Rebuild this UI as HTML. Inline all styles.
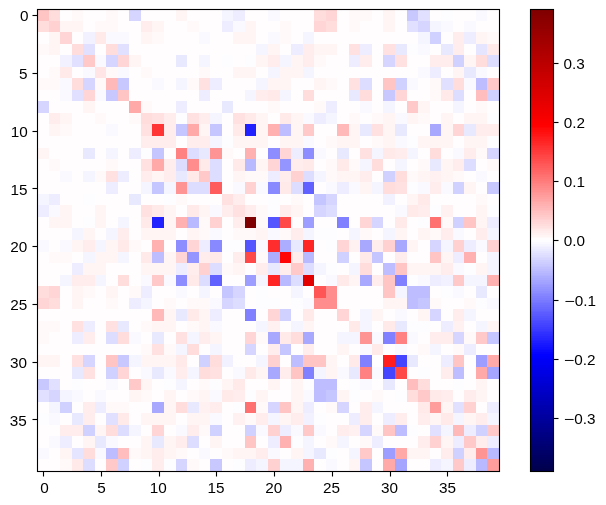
<!DOCTYPE html>
<html><head><meta charset="utf-8"><title>heatmap</title>
<style>html,body{margin:0;padding:0;background:#fff;}body{width:606px;height:505px;overflow:hidden;}svg{display:block;will-change:transform;}text{font-family:"Liberation Sans",sans-serif;font-size:13.85px;letter-spacing:0px;fill:#000;}</style>
</head><body>
<svg width="606" height="505" viewBox="0 0 606 505">
<rect x="0" y="0" width="606" height="505" fill="#ffffff"/>
<g shape-rendering="crispEdges">
<rect x="37.5" y="9.5" width="11.5" height="11.5" fill="#ffc5c5"/>
<rect x="49" y="9.5" width="11" height="11.5" fill="#ffdddd"/>
<rect x="60" y="9.5" width="12" height="11.5" fill="#fffdfd"/>
<rect x="72" y="9.5" width="11" height="11.5" fill="#fff9f9"/>
<rect x="83" y="9.5" width="23" height="11.5" fill="#fffdfd"/>
<rect x="106" y="9.5" width="12" height="11.5" fill="#fff9f9"/>
<rect x="118" y="9.5" width="11" height="11.5" fill="#fffdfd"/>
<rect x="129" y="9.5" width="12" height="11.5" fill="#d5d5ff"/>
<rect x="141" y="9.5" width="35" height="11.5" fill="#fffdfd"/>
<rect x="176" y="9.5" width="11" height="11.5" fill="#fff5f5"/>
<rect x="187" y="9.5" width="35" height="11.5" fill="#fffdfd"/>
<rect x="222" y="9.5" width="11" height="11.5" fill="#f5f5ff"/>
<rect x="233" y="9.5" width="12" height="11.5" fill="#ededff"/>
<rect x="245" y="9.5" width="23" height="11.5" fill="#fffdfd"/>
<rect x="268" y="9.5" width="12" height="11.5" fill="#f9f9ff"/>
<rect x="280" y="9.5" width="34" height="11.5" fill="#fffdfd"/>
<rect x="314" y="9.5" width="12" height="11.5" fill="#ffdddd"/>
<rect x="326" y="9.5" width="11" height="11.5" fill="#ffd5d5"/>
<rect x="337" y="9.5" width="12" height="11.5" fill="#fffdfd"/>
<rect x="349" y="9.5" width="23" height="11.5" fill="#fff9f9"/>
<rect x="372" y="9.5" width="11" height="11.5" fill="#fffdfd"/>
<rect x="383" y="9.5" width="12" height="11.5" fill="#fff5f5"/>
<rect x="395" y="9.5" width="12" height="11.5" fill="#fffdfd"/>
<rect x="407" y="9.5" width="11" height="11.5" fill="#c8c8ff"/>
<rect x="418" y="9.5" width="12" height="11.5" fill="#e1e1ff"/>
<rect x="430" y="9.5" width="11" height="11.5" fill="#fffdfd"/>
<rect x="441" y="9.5" width="12" height="11.5" fill="#fdfdff"/>
<rect x="453" y="9.5" width="23" height="11.5" fill="#fffdfd"/>
<rect x="476" y="9.5" width="11" height="11.5" fill="#f9f9ff"/>
<rect x="487" y="9.5" width="12.5" height="11.5" fill="#fffdfd"/>
<rect x="37.5" y="21" width="11.5" height="11" fill="#ffdddd"/>
<rect x="49" y="21" width="11" height="11" fill="#ffd1d1"/>
<rect x="60" y="21" width="23" height="11" fill="#fff5f5"/>
<rect x="83" y="21" width="12" height="11" fill="#fffdfd"/>
<rect x="95" y="21" width="23" height="11" fill="#fff9f9"/>
<rect x="118" y="21" width="23" height="11" fill="#fffdfd"/>
<rect x="141" y="21" width="11" height="11" fill="#ffeded"/>
<rect x="152" y="21" width="12" height="11" fill="#fff5f5"/>
<rect x="164" y="21" width="23" height="11" fill="#fffdfd"/>
<rect x="187" y="21" width="12" height="11" fill="#fff9f9"/>
<rect x="199" y="21" width="23" height="11" fill="#fffdfd"/>
<rect x="222" y="21" width="11" height="11" fill="#ededff"/>
<rect x="233" y="21" width="12" height="11" fill="#f9f9ff"/>
<rect x="245" y="21" width="11" height="11" fill="#fff5f5"/>
<rect x="256" y="21" width="24" height="11" fill="#fffdfd"/>
<rect x="280" y="21" width="11" height="11" fill="#fff9f9"/>
<rect x="291" y="21" width="23" height="11" fill="#fffdfd"/>
<rect x="314" y="21" width="12" height="11" fill="#ffd5d5"/>
<rect x="326" y="21" width="11" height="11" fill="#ffdddd"/>
<rect x="337" y="21" width="12" height="11" fill="#fffdfd"/>
<rect x="349" y="21" width="11" height="11" fill="#fff9f9"/>
<rect x="360" y="21" width="23" height="11" fill="#fffdfd"/>
<rect x="383" y="21" width="12" height="11" fill="#fff5f5"/>
<rect x="395" y="21" width="12" height="11" fill="#fffdfd"/>
<rect x="407" y="21" width="11" height="11" fill="#e1e1ff"/>
<rect x="418" y="21" width="12" height="11" fill="#d5d5ff"/>
<rect x="430" y="21" width="11" height="11" fill="#f5f5ff"/>
<rect x="441" y="21" width="12" height="11" fill="#f9f9ff"/>
<rect x="453" y="21" width="11" height="11" fill="#fffdfd"/>
<rect x="464" y="21" width="12" height="11" fill="#f9f9ff"/>
<rect x="476" y="21" width="23.5" height="11" fill="#fffdfd"/>
<rect x="37.5" y="32" width="11.5" height="12" fill="#fffdfd"/>
<rect x="49" y="32" width="11" height="12" fill="#fff5f5"/>
<rect x="60" y="32" width="12" height="12" fill="#ffd5d5"/>
<rect x="72" y="32" width="11" height="12" fill="#fffdfd"/>
<rect x="83" y="32" width="12" height="12" fill="#f1f1ff"/>
<rect x="95" y="32" width="11" height="12" fill="#ffe9e9"/>
<rect x="106" y="32" width="23" height="12" fill="#f9f9ff"/>
<rect x="129" y="32" width="12" height="12" fill="#fffdfd"/>
<rect x="141" y="32" width="11" height="12" fill="#fff5f5"/>
<rect x="152" y="32" width="12" height="12" fill="#fff9f9"/>
<rect x="164" y="32" width="35" height="12" fill="#fffdfd"/>
<rect x="199" y="32" width="11" height="12" fill="#f9f9ff"/>
<rect x="210" y="32" width="23" height="12" fill="#fffdfd"/>
<rect x="233" y="32" width="23" height="12" fill="#fff5f5"/>
<rect x="256" y="32" width="12" height="12" fill="#fffdfd"/>
<rect x="268" y="32" width="12" height="12" fill="#f9f9ff"/>
<rect x="280" y="32" width="11" height="12" fill="#fff9f9"/>
<rect x="291" y="32" width="12" height="12" fill="#fffdfd"/>
<rect x="303" y="32" width="11" height="12" fill="#f5f5ff"/>
<rect x="314" y="32" width="104" height="12" fill="#fffdfd"/>
<rect x="418" y="32" width="12" height="12" fill="#f5f5ff"/>
<rect x="430" y="32" width="11" height="12" fill="#d1d1ff"/>
<rect x="441" y="32" width="12" height="12" fill="#fffdfd"/>
<rect x="453" y="32" width="11" height="12" fill="#ffeded"/>
<rect x="464" y="32" width="12" height="12" fill="#ededff"/>
<rect x="476" y="32" width="11" height="12" fill="#fff5f5"/>
<rect x="487" y="32" width="12.5" height="12" fill="#fff9f9"/>
<rect x="37.5" y="44" width="11.5" height="11" fill="#fff9f9"/>
<rect x="49" y="44" width="11" height="11" fill="#fff5f5"/>
<rect x="60" y="44" width="12" height="11" fill="#fffdfd"/>
<rect x="72" y="44" width="11" height="11" fill="#ffdddd"/>
<rect x="83" y="44" width="12" height="11" fill="#e1e1ff"/>
<rect x="95" y="44" width="11" height="11" fill="#fffdfd"/>
<rect x="106" y="44" width="12" height="11" fill="#ffdddd"/>
<rect x="118" y="44" width="11" height="11" fill="#e1e1ff"/>
<rect x="129" y="44" width="127" height="11" fill="#fffdfd"/>
<rect x="256" y="44" width="12" height="11" fill="#f5f5ff"/>
<rect x="268" y="44" width="12" height="11" fill="#fff5f5"/>
<rect x="280" y="44" width="11" height="11" fill="#fffdfd"/>
<rect x="291" y="44" width="12" height="11" fill="#ededff"/>
<rect x="303" y="44" width="11" height="11" fill="#ffeded"/>
<rect x="314" y="44" width="23" height="11" fill="#fff5f5"/>
<rect x="337" y="44" width="12" height="11" fill="#fffdfd"/>
<rect x="349" y="44" width="11" height="11" fill="#ffe1e1"/>
<rect x="360" y="44" width="12" height="11" fill="#ededff"/>
<rect x="372" y="44" width="11" height="11" fill="#fffdfd"/>
<rect x="383" y="44" width="12" height="11" fill="#ffe1e1"/>
<rect x="395" y="44" width="12" height="11" fill="#e8e8ff"/>
<rect x="407" y="44" width="11" height="11" fill="#fdfdff"/>
<rect x="418" y="44" width="12" height="11" fill="#f9f9ff"/>
<rect x="430" y="44" width="11" height="11" fill="#fffdfd"/>
<rect x="441" y="44" width="12" height="11" fill="#e8e8ff"/>
<rect x="453" y="44" width="11" height="11" fill="#ffeded"/>
<rect x="464" y="44" width="12" height="11" fill="#fffdfd"/>
<rect x="476" y="44" width="11" height="11" fill="#e5e5ff"/>
<rect x="487" y="44" width="12.5" height="11" fill="#ffe9e9"/>
<rect x="37.5" y="55" width="22.5" height="12" fill="#fffdfd"/>
<rect x="60" y="55" width="12" height="12" fill="#f1f1ff"/>
<rect x="72" y="55" width="11" height="12" fill="#e1e1ff"/>
<rect x="83" y="55" width="12" height="12" fill="#ffc9c9"/>
<rect x="95" y="55" width="11" height="12" fill="#f9f9ff"/>
<rect x="106" y="55" width="12" height="12" fill="#d5d5ff"/>
<rect x="118" y="55" width="11" height="12" fill="#ffd5d5"/>
<rect x="129" y="55" width="12" height="12" fill="#fff5f5"/>
<rect x="141" y="55" width="35" height="12" fill="#fffdfd"/>
<rect x="176" y="55" width="11" height="12" fill="#e8e8ff"/>
<rect x="187" y="55" width="12" height="12" fill="#fffdfd"/>
<rect x="199" y="55" width="11" height="12" fill="#f5f5ff"/>
<rect x="210" y="55" width="12" height="12" fill="#fffdfd"/>
<rect x="222" y="55" width="11" height="12" fill="#fdfdff"/>
<rect x="233" y="55" width="12" height="12" fill="#fffdfd"/>
<rect x="245" y="55" width="11" height="12" fill="#fdfdff"/>
<rect x="256" y="55" width="12" height="12" fill="#fff5f5"/>
<rect x="268" y="55" width="12" height="12" fill="#ffeded"/>
<rect x="280" y="55" width="11" height="12" fill="#f5f5ff"/>
<rect x="291" y="55" width="12" height="12" fill="#fff5f5"/>
<rect x="303" y="55" width="11" height="12" fill="#ffeded"/>
<rect x="314" y="55" width="12" height="12" fill="#fff9f9"/>
<rect x="326" y="55" width="23" height="12" fill="#fffdfd"/>
<rect x="349" y="55" width="11" height="12" fill="#ededff"/>
<rect x="360" y="55" width="12" height="12" fill="#ffeded"/>
<rect x="372" y="55" width="11" height="12" fill="#fffdfd"/>
<rect x="383" y="55" width="12" height="12" fill="#d5d5ff"/>
<rect x="395" y="55" width="12" height="12" fill="#ffe1e1"/>
<rect x="407" y="55" width="23" height="12" fill="#fffdfd"/>
<rect x="430" y="55" width="23" height="12" fill="#ffeded"/>
<rect x="453" y="55" width="11" height="12" fill="#d1d1ff"/>
<rect x="464" y="55" width="12" height="12" fill="#fff5f5"/>
<rect x="476" y="55" width="11" height="12" fill="#ffdddd"/>
<rect x="487" y="55" width="12.5" height="12" fill="#ddddff"/>
<rect x="37.5" y="67" width="11.5" height="11" fill="#fffdfd"/>
<rect x="49" y="67" width="11" height="11" fill="#fff9f9"/>
<rect x="60" y="67" width="12" height="11" fill="#ffe9e9"/>
<rect x="72" y="67" width="11" height="11" fill="#fffdfd"/>
<rect x="83" y="67" width="12" height="11" fill="#f9f9ff"/>
<rect x="95" y="67" width="11" height="11" fill="#ffe5e5"/>
<rect x="106" y="67" width="12" height="11" fill="#fff9f9"/>
<rect x="118" y="67" width="11" height="11" fill="#f9f9ff"/>
<rect x="129" y="67" width="12" height="11" fill="#fffdfd"/>
<rect x="141" y="67" width="11" height="11" fill="#fff9f9"/>
<rect x="152" y="67" width="47" height="11" fill="#fffdfd"/>
<rect x="199" y="67" width="11" height="11" fill="#fff9f9"/>
<rect x="210" y="67" width="23" height="11" fill="#fffdfd"/>
<rect x="233" y="67" width="23" height="11" fill="#fff5f5"/>
<rect x="256" y="67" width="12" height="11" fill="#fffdfd"/>
<rect x="268" y="67" width="12" height="11" fill="#f5f5ff"/>
<rect x="280" y="67" width="23" height="11" fill="#fff5f5"/>
<rect x="303" y="67" width="11" height="11" fill="#f5f5ff"/>
<rect x="314" y="67" width="104" height="11" fill="#fffdfd"/>
<rect x="418" y="67" width="12" height="11" fill="#f9f9ff"/>
<rect x="430" y="67" width="11" height="11" fill="#ededff"/>
<rect x="441" y="67" width="12" height="11" fill="#fffdfd"/>
<rect x="453" y="67" width="11" height="11" fill="#fff5f5"/>
<rect x="464" y="67" width="12" height="11" fill="#e8e8ff"/>
<rect x="476" y="67" width="11" height="11" fill="#f9f9ff"/>
<rect x="487" y="67" width="12.5" height="11" fill="#fffdfd"/>
<rect x="37.5" y="78" width="22.5" height="12" fill="#fff9f9"/>
<rect x="60" y="78" width="12" height="12" fill="#f9f9ff"/>
<rect x="72" y="78" width="11" height="12" fill="#ffdddd"/>
<rect x="83" y="78" width="12" height="12" fill="#d5d5ff"/>
<rect x="95" y="78" width="11" height="12" fill="#fff9f9"/>
<rect x="106" y="78" width="12" height="12" fill="#ffb9b9"/>
<rect x="118" y="78" width="11" height="12" fill="#c8c8ff"/>
<rect x="129" y="78" width="23" height="12" fill="#fffdfd"/>
<rect x="152" y="78" width="12" height="12" fill="#f9f9ff"/>
<rect x="164" y="78" width="12" height="12" fill="#fffdfd"/>
<rect x="176" y="78" width="11" height="12" fill="#f5f5ff"/>
<rect x="187" y="78" width="12" height="12" fill="#fff9f9"/>
<rect x="199" y="78" width="11" height="12" fill="#ffe1e1"/>
<rect x="210" y="78" width="12" height="12" fill="#ededff"/>
<rect x="222" y="78" width="34" height="12" fill="#fffdfd"/>
<rect x="256" y="78" width="12" height="12" fill="#f5f5ff"/>
<rect x="268" y="78" width="23" height="12" fill="#fff5f5"/>
<rect x="291" y="78" width="23" height="12" fill="#fffdfd"/>
<rect x="314" y="78" width="12" height="12" fill="#fff5f5"/>
<rect x="326" y="78" width="11" height="12" fill="#fff9f9"/>
<rect x="337" y="78" width="12" height="12" fill="#fffdfd"/>
<rect x="349" y="78" width="11" height="12" fill="#ffe1e1"/>
<rect x="360" y="78" width="12" height="12" fill="#ddddff"/>
<rect x="372" y="78" width="11" height="12" fill="#fffdfd"/>
<rect x="383" y="78" width="12" height="12" fill="#ffc5c5"/>
<rect x="395" y="78" width="12" height="12" fill="#d1d1ff"/>
<rect x="407" y="78" width="11" height="12" fill="#f9f9ff"/>
<rect x="418" y="78" width="12" height="12" fill="#fffdfd"/>
<rect x="430" y="78" width="11" height="12" fill="#fff9f9"/>
<rect x="441" y="78" width="12" height="12" fill="#e1e1ff"/>
<rect x="453" y="78" width="11" height="12" fill="#ffdddd"/>
<rect x="464" y="78" width="12" height="12" fill="#f9f9ff"/>
<rect x="476" y="78" width="11" height="12" fill="#bdbdff"/>
<rect x="487" y="78" width="12.5" height="12" fill="#ffc9c9"/>
<rect x="37.5" y="90" width="22.5" height="11" fill="#fffdfd"/>
<rect x="60" y="90" width="12" height="11" fill="#f9f9ff"/>
<rect x="72" y="90" width="11" height="11" fill="#e1e1ff"/>
<rect x="83" y="90" width="12" height="11" fill="#ffd5d5"/>
<rect x="95" y="90" width="11" height="11" fill="#f9f9ff"/>
<rect x="106" y="90" width="12" height="11" fill="#c8c8ff"/>
<rect x="118" y="90" width="11" height="11" fill="#ffc5c5"/>
<rect x="129" y="90" width="70" height="11" fill="#fffdfd"/>
<rect x="199" y="90" width="11" height="11" fill="#ededff"/>
<rect x="210" y="90" width="35" height="11" fill="#fffdfd"/>
<rect x="245" y="90" width="11" height="11" fill="#f5f5ff"/>
<rect x="256" y="90" width="12" height="11" fill="#ffeded"/>
<rect x="268" y="90" width="12" height="11" fill="#ffe9e9"/>
<rect x="280" y="90" width="11" height="11" fill="#f5f5ff"/>
<rect x="291" y="90" width="12" height="11" fill="#fffdfd"/>
<rect x="303" y="90" width="11" height="11" fill="#ffdddd"/>
<rect x="314" y="90" width="35" height="11" fill="#fffdfd"/>
<rect x="349" y="90" width="11" height="11" fill="#e8e8ff"/>
<rect x="360" y="90" width="12" height="11" fill="#ffdddd"/>
<rect x="372" y="90" width="11" height="11" fill="#fffdfd"/>
<rect x="383" y="90" width="12" height="11" fill="#c8c8ff"/>
<rect x="395" y="90" width="12" height="11" fill="#ffd5d5"/>
<rect x="407" y="90" width="23" height="11" fill="#fffdfd"/>
<rect x="430" y="90" width="11" height="11" fill="#fff9f9"/>
<rect x="441" y="90" width="12" height="11" fill="#ffe9e9"/>
<rect x="453" y="90" width="11" height="11" fill="#ddddff"/>
<rect x="464" y="90" width="12" height="11" fill="#fffdfd"/>
<rect x="476" y="90" width="11" height="11" fill="#ffbdbd"/>
<rect x="487" y="90" width="12.5" height="11" fill="#d1d1ff"/>
<rect x="37.5" y="101" width="11.5" height="12" fill="#d5d5ff"/>
<rect x="49" y="101" width="34" height="12" fill="#fffdfd"/>
<rect x="83" y="101" width="12" height="12" fill="#fff5f5"/>
<rect x="95" y="101" width="34" height="12" fill="#fffdfd"/>
<rect x="129" y="101" width="12" height="12" fill="#ffa9a9"/>
<rect x="141" y="101" width="11" height="12" fill="#fff9f9"/>
<rect x="152" y="101" width="24" height="12" fill="#fffdfd"/>
<rect x="176" y="101" width="11" height="12" fill="#ededff"/>
<rect x="187" y="101" width="35" height="12" fill="#fffdfd"/>
<rect x="222" y="101" width="11" height="12" fill="#e8e8ff"/>
<rect x="233" y="101" width="35" height="12" fill="#fffdfd"/>
<rect x="268" y="101" width="12" height="12" fill="#fff9f9"/>
<rect x="280" y="101" width="34" height="12" fill="#fffdfd"/>
<rect x="314" y="101" width="12" height="12" fill="#fff9f9"/>
<rect x="326" y="101" width="11" height="12" fill="#ededff"/>
<rect x="337" y="101" width="23" height="12" fill="#fffdfd"/>
<rect x="360" y="101" width="12" height="12" fill="#f9f9ff"/>
<rect x="372" y="101" width="11" height="12" fill="#fffdfd"/>
<rect x="383" y="101" width="12" height="12" fill="#f5f5ff"/>
<rect x="395" y="101" width="12" height="12" fill="#fffdfd"/>
<rect x="407" y="101" width="11" height="12" fill="#ffc9c9"/>
<rect x="418" y="101" width="12" height="12" fill="#fff5f5"/>
<rect x="430" y="101" width="23" height="12" fill="#fffdfd"/>
<rect x="453" y="101" width="11" height="12" fill="#f5f5ff"/>
<rect x="464" y="101" width="12" height="12" fill="#fffdfd"/>
<rect x="476" y="101" width="11" height="12" fill="#fff9f9"/>
<rect x="487" y="101" width="12.5" height="12" fill="#fffdfd"/>
<rect x="37.5" y="113" width="11.5" height="11" fill="#fffdfd"/>
<rect x="49" y="113" width="11" height="11" fill="#ffeded"/>
<rect x="60" y="113" width="12" height="11" fill="#fff5f5"/>
<rect x="72" y="113" width="23" height="11" fill="#fffdfd"/>
<rect x="95" y="113" width="11" height="11" fill="#fff9f9"/>
<rect x="106" y="113" width="23" height="11" fill="#fffdfd"/>
<rect x="129" y="113" width="12" height="11" fill="#fff9f9"/>
<rect x="141" y="113" width="11" height="11" fill="#ffdddd"/>
<rect x="152" y="113" width="12" height="11" fill="#ffe1e1"/>
<rect x="164" y="113" width="12" height="11" fill="#ffeded"/>
<rect x="176" y="113" width="11" height="11" fill="#fdfdff"/>
<rect x="187" y="113" width="12" height="11" fill="#ffe1e1"/>
<rect x="199" y="113" width="11" height="11" fill="#ffeded"/>
<rect x="210" y="113" width="12" height="11" fill="#f5f5ff"/>
<rect x="222" y="113" width="11" height="11" fill="#fffdfd"/>
<rect x="233" y="113" width="12" height="11" fill="#ffe1e1"/>
<rect x="245" y="113" width="11" height="11" fill="#ffe9e9"/>
<rect x="256" y="113" width="12" height="11" fill="#fff5f5"/>
<rect x="268" y="113" width="12" height="11" fill="#fffdfd"/>
<rect x="280" y="113" width="11" height="11" fill="#ffe9e9"/>
<rect x="291" y="113" width="12" height="11" fill="#fff5f5"/>
<rect x="303" y="113" width="11" height="11" fill="#f9f9ff"/>
<rect x="314" y="113" width="12" height="11" fill="#ededff"/>
<rect x="326" y="113" width="11" height="11" fill="#f5f5ff"/>
<rect x="337" y="113" width="12" height="11" fill="#fffdfd"/>
<rect x="349" y="113" width="11" height="11" fill="#fff9f9"/>
<rect x="360" y="113" width="12" height="11" fill="#fffdfd"/>
<rect x="372" y="113" width="11" height="11" fill="#fff9f9"/>
<rect x="383" y="113" width="12" height="11" fill="#fff5f5"/>
<rect x="395" y="113" width="12" height="11" fill="#f9f9ff"/>
<rect x="407" y="113" width="11" height="11" fill="#fff5f5"/>
<rect x="418" y="113" width="12" height="11" fill="#fff9f9"/>
<rect x="430" y="113" width="11" height="11" fill="#fffdfd"/>
<rect x="441" y="113" width="12" height="11" fill="#fff5f5"/>
<rect x="453" y="113" width="11" height="11" fill="#fffdfd"/>
<rect x="464" y="113" width="23" height="11" fill="#fff5f5"/>
<rect x="487" y="113" width="12.5" height="11" fill="#fdfdff"/>
<rect x="37.5" y="124" width="11.5" height="12" fill="#fffdfd"/>
<rect x="49" y="124" width="11" height="12" fill="#fff5f5"/>
<rect x="60" y="124" width="12" height="12" fill="#fff9f9"/>
<rect x="72" y="124" width="34" height="12" fill="#fffdfd"/>
<rect x="106" y="124" width="12" height="12" fill="#f9f9ff"/>
<rect x="118" y="124" width="23" height="12" fill="#fffdfd"/>
<rect x="141" y="124" width="11" height="12" fill="#ffe1e1"/>
<rect x="152" y="124" width="12" height="12" fill="#ff3535"/>
<rect x="164" y="124" width="12" height="12" fill="#ffeded"/>
<rect x="176" y="124" width="11" height="12" fill="#c5c5ff"/>
<rect x="187" y="124" width="12" height="12" fill="#ffa9a9"/>
<rect x="199" y="124" width="11" height="12" fill="#fff5f5"/>
<rect x="210" y="124" width="12" height="12" fill="#c5c5ff"/>
<rect x="222" y="124" width="11" height="12" fill="#fffdfd"/>
<rect x="233" y="124" width="12" height="12" fill="#ffe9e9"/>
<rect x="245" y="124" width="11" height="12" fill="#2121ff"/>
<rect x="256" y="124" width="12" height="12" fill="#fff5f5"/>
<rect x="268" y="124" width="12" height="12" fill="#ffb1b1"/>
<rect x="280" y="124" width="11" height="12" fill="#bdbdff"/>
<rect x="291" y="124" width="12" height="12" fill="#fff5f5"/>
<rect x="303" y="124" width="11" height="12" fill="#ffc9c9"/>
<rect x="314" y="124" width="23" height="12" fill="#fffdfd"/>
<rect x="337" y="124" width="12" height="12" fill="#ffb9b9"/>
<rect x="349" y="124" width="11" height="12" fill="#fff5f5"/>
<rect x="360" y="124" width="12" height="12" fill="#e8e8ff"/>
<rect x="372" y="124" width="11" height="12" fill="#ffe1e1"/>
<rect x="383" y="124" width="12" height="12" fill="#fff5f5"/>
<rect x="395" y="124" width="12" height="12" fill="#e8e8ff"/>
<rect x="407" y="124" width="23" height="12" fill="#fffdfd"/>
<rect x="430" y="124" width="11" height="12" fill="#a8a8ff"/>
<rect x="441" y="124" width="12" height="12" fill="#fff5f5"/>
<rect x="453" y="124" width="11" height="12" fill="#ffd5d5"/>
<rect x="464" y="124" width="12" height="12" fill="#e8e8ff"/>
<rect x="476" y="124" width="23.5" height="12" fill="#ffeded"/>
<rect x="37.5" y="136" width="103.5" height="12" fill="#fffdfd"/>
<rect x="141" y="136" width="35" height="12" fill="#ffeded"/>
<rect x="176" y="136" width="11" height="12" fill="#fffdfd"/>
<rect x="187" y="136" width="23" height="12" fill="#ffeded"/>
<rect x="210" y="136" width="12" height="12" fill="#f5f5ff"/>
<rect x="222" y="136" width="11" height="12" fill="#fdfdff"/>
<rect x="233" y="136" width="35" height="12" fill="#fff5f5"/>
<rect x="268" y="136" width="12" height="12" fill="#fffdfd"/>
<rect x="280" y="136" width="23" height="12" fill="#fff5f5"/>
<rect x="303" y="136" width="11" height="12" fill="#f9f9ff"/>
<rect x="314" y="136" width="12" height="12" fill="#fffdfd"/>
<rect x="326" y="136" width="11" height="12" fill="#fff9f9"/>
<rect x="337" y="136" width="23" height="12" fill="#fff5f5"/>
<rect x="360" y="136" width="12" height="12" fill="#fffdfd"/>
<rect x="372" y="136" width="11" height="12" fill="#fff9f9"/>
<rect x="383" y="136" width="12" height="12" fill="#fff5f5"/>
<rect x="395" y="136" width="12" height="12" fill="#f9f9ff"/>
<rect x="407" y="136" width="11" height="12" fill="#fdfdff"/>
<rect x="418" y="136" width="35" height="12" fill="#fff5f5"/>
<rect x="453" y="136" width="11" height="12" fill="#fffdfd"/>
<rect x="464" y="136" width="23" height="12" fill="#fff5f5"/>
<rect x="487" y="136" width="12.5" height="12" fill="#fdfdff"/>
<rect x="37.5" y="148" width="11.5" height="11" fill="#fff5f5"/>
<rect x="49" y="148" width="34" height="11" fill="#fffdfd"/>
<rect x="83" y="148" width="12" height="11" fill="#e8e8ff"/>
<rect x="95" y="148" width="11" height="11" fill="#fffdfd"/>
<rect x="106" y="148" width="12" height="11" fill="#f5f5ff"/>
<rect x="118" y="148" width="11" height="11" fill="#fffdfd"/>
<rect x="129" y="148" width="12" height="11" fill="#ededff"/>
<rect x="141" y="148" width="11" height="11" fill="#fdfdff"/>
<rect x="152" y="148" width="12" height="11" fill="#c5c5ff"/>
<rect x="164" y="148" width="12" height="11" fill="#fffdfd"/>
<rect x="176" y="148" width="11" height="11" fill="#ff8181"/>
<rect x="187" y="148" width="12" height="11" fill="#ddddff"/>
<rect x="199" y="148" width="11" height="11" fill="#e8e8ff"/>
<rect x="210" y="148" width="12" height="11" fill="#ff9494"/>
<rect x="222" y="148" width="11" height="11" fill="#fff9f9"/>
<rect x="233" y="148" width="12" height="11" fill="#fffdfd"/>
<rect x="245" y="148" width="11" height="11" fill="#ffb1b1"/>
<rect x="256" y="148" width="12" height="11" fill="#fffdfd"/>
<rect x="268" y="148" width="12" height="11" fill="#8d8dff"/>
<rect x="280" y="148" width="11" height="11" fill="#ffd5d5"/>
<rect x="291" y="148" width="12" height="11" fill="#ededff"/>
<rect x="303" y="148" width="11" height="11" fill="#8d8dff"/>
<rect x="314" y="148" width="12" height="11" fill="#f9f9ff"/>
<rect x="326" y="148" width="11" height="11" fill="#fffdfd"/>
<rect x="337" y="148" width="12" height="11" fill="#e8e8ff"/>
<rect x="349" y="148" width="11" height="11" fill="#fffdfd"/>
<rect x="360" y="148" width="12" height="11" fill="#ffe1e1"/>
<rect x="372" y="148" width="11" height="11" fill="#f5f5ff"/>
<rect x="383" y="148" width="12" height="11" fill="#ffe9e9"/>
<rect x="395" y="148" width="12" height="11" fill="#ffeded"/>
<rect x="407" y="148" width="11" height="11" fill="#f5f5ff"/>
<rect x="418" y="148" width="12" height="11" fill="#fffdfd"/>
<rect x="430" y="148" width="11" height="11" fill="#ffdddd"/>
<rect x="441" y="148" width="12" height="11" fill="#fffdfd"/>
<rect x="453" y="148" width="11" height="11" fill="#f9f9ff"/>
<rect x="464" y="148" width="12" height="11" fill="#ffeded"/>
<rect x="476" y="148" width="11" height="11" fill="#fff9f9"/>
<rect x="487" y="148" width="12.5" height="11" fill="#d5d5ff"/>
<rect x="37.5" y="159" width="11.5" height="12" fill="#fffdfd"/>
<rect x="49" y="159" width="11" height="12" fill="#fff9f9"/>
<rect x="60" y="159" width="46" height="12" fill="#fffdfd"/>
<rect x="106" y="159" width="12" height="12" fill="#fff9f9"/>
<rect x="118" y="159" width="23" height="12" fill="#fffdfd"/>
<rect x="141" y="159" width="11" height="12" fill="#ffe1e1"/>
<rect x="152" y="159" width="12" height="12" fill="#ffa9a9"/>
<rect x="164" y="159" width="12" height="12" fill="#ffeded"/>
<rect x="176" y="159" width="11" height="12" fill="#ddddff"/>
<rect x="187" y="159" width="12" height="12" fill="#ff8d8d"/>
<rect x="199" y="159" width="11" height="12" fill="#ffe9e9"/>
<rect x="210" y="159" width="12" height="12" fill="#ddddff"/>
<rect x="222" y="159" width="11" height="12" fill="#fffdfd"/>
<rect x="233" y="159" width="12" height="12" fill="#ffe9e9"/>
<rect x="245" y="159" width="11" height="12" fill="#b9b9ff"/>
<rect x="256" y="159" width="12" height="12" fill="#fff5f5"/>
<rect x="268" y="159" width="12" height="12" fill="#ffd5d5"/>
<rect x="280" y="159" width="11" height="12" fill="#9595ff"/>
<rect x="291" y="159" width="12" height="12" fill="#ffeded"/>
<rect x="303" y="159" width="11" height="12" fill="#ffe9e9"/>
<rect x="314" y="159" width="12" height="12" fill="#fffdfd"/>
<rect x="326" y="159" width="11" height="12" fill="#fff9f9"/>
<rect x="337" y="159" width="12" height="12" fill="#ffe9e9"/>
<rect x="349" y="159" width="11" height="12" fill="#fff9f9"/>
<rect x="360" y="159" width="12" height="12" fill="#f5f5ff"/>
<rect x="372" y="159" width="11" height="12" fill="#ffdddd"/>
<rect x="383" y="159" width="12" height="12" fill="#fffdfd"/>
<rect x="395" y="159" width="12" height="12" fill="#f5f5ff"/>
<rect x="407" y="159" width="11" height="12" fill="#fffdfd"/>
<rect x="418" y="159" width="12" height="12" fill="#fff9f9"/>
<rect x="430" y="159" width="11" height="12" fill="#e8e8ff"/>
<rect x="441" y="159" width="12" height="12" fill="#fff5f5"/>
<rect x="453" y="159" width="11" height="12" fill="#ffeded"/>
<rect x="464" y="159" width="12" height="12" fill="#ddddff"/>
<rect x="476" y="159" width="11" height="12" fill="#fffdfd"/>
<rect x="487" y="159" width="12.5" height="12" fill="#fff9f9"/>
<rect x="37.5" y="171" width="22.5" height="11" fill="#fffdfd"/>
<rect x="60" y="171" width="12" height="11" fill="#f9f9ff"/>
<rect x="72" y="171" width="11" height="11" fill="#fffdfd"/>
<rect x="83" y="171" width="12" height="11" fill="#f5f5ff"/>
<rect x="95" y="171" width="11" height="11" fill="#fff9f9"/>
<rect x="106" y="171" width="12" height="11" fill="#ffe1e1"/>
<rect x="118" y="171" width="11" height="11" fill="#ededff"/>
<rect x="129" y="171" width="12" height="11" fill="#fffdfd"/>
<rect x="141" y="171" width="11" height="11" fill="#ffeded"/>
<rect x="152" y="171" width="12" height="11" fill="#fff5f5"/>
<rect x="164" y="171" width="12" height="11" fill="#ffeded"/>
<rect x="176" y="171" width="11" height="11" fill="#e8e8ff"/>
<rect x="187" y="171" width="12" height="11" fill="#ffe9e9"/>
<rect x="199" y="171" width="11" height="11" fill="#ffc9c9"/>
<rect x="210" y="171" width="12" height="11" fill="#ddddff"/>
<rect x="222" y="171" width="11" height="11" fill="#fffdfd"/>
<rect x="233" y="171" width="12" height="11" fill="#fff5f5"/>
<rect x="245" y="171" width="23" height="11" fill="#fff9f9"/>
<rect x="268" y="171" width="12" height="11" fill="#ededff"/>
<rect x="280" y="171" width="11" height="11" fill="#ffeded"/>
<rect x="291" y="171" width="12" height="11" fill="#ffd1d1"/>
<rect x="303" y="171" width="11" height="11" fill="#ddddff"/>
<rect x="314" y="171" width="12" height="11" fill="#f5f5ff"/>
<rect x="326" y="171" width="11" height="11" fill="#fff9f9"/>
<rect x="337" y="171" width="23" height="11" fill="#fff5f5"/>
<rect x="360" y="171" width="12" height="11" fill="#ffeded"/>
<rect x="372" y="171" width="11" height="11" fill="#fffdfd"/>
<rect x="383" y="171" width="12" height="11" fill="#d1d1ff"/>
<rect x="395" y="171" width="12" height="11" fill="#ffdddd"/>
<rect x="407" y="171" width="11" height="11" fill="#fff9f9"/>
<rect x="418" y="171" width="12" height="11" fill="#fff5f5"/>
<rect x="430" y="171" width="11" height="11" fill="#fff1f1"/>
<rect x="441" y="171" width="12" height="11" fill="#fff5f5"/>
<rect x="453" y="171" width="11" height="11" fill="#fff9f9"/>
<rect x="464" y="171" width="12" height="11" fill="#fffdfd"/>
<rect x="476" y="171" width="11" height="11" fill="#f9f9ff"/>
<rect x="487" y="171" width="12.5" height="11" fill="#fffdfd"/>
<rect x="37.5" y="182" width="68.5" height="12" fill="#fffdfd"/>
<rect x="106" y="182" width="12" height="12" fill="#ededff"/>
<rect x="118" y="182" width="23" height="12" fill="#fffdfd"/>
<rect x="141" y="182" width="11" height="12" fill="#f5f5ff"/>
<rect x="152" y="182" width="12" height="12" fill="#c5c5ff"/>
<rect x="164" y="182" width="12" height="12" fill="#f5f5ff"/>
<rect x="176" y="182" width="11" height="12" fill="#ff9494"/>
<rect x="187" y="182" width="23" height="12" fill="#ddddff"/>
<rect x="210" y="182" width="12" height="12" fill="#ff5d5d"/>
<rect x="222" y="182" width="11" height="12" fill="#fffdfd"/>
<rect x="233" y="182" width="12" height="12" fill="#f9f9ff"/>
<rect x="245" y="182" width="11" height="12" fill="#ffd1d1"/>
<rect x="256" y="182" width="12" height="12" fill="#f9f9ff"/>
<rect x="268" y="182" width="12" height="12" fill="#8888ff"/>
<rect x="280" y="182" width="11" height="12" fill="#ffe9e9"/>
<rect x="291" y="182" width="12" height="12" fill="#ddddff"/>
<rect x="303" y="182" width="11" height="12" fill="#6161ff"/>
<rect x="314" y="182" width="12" height="12" fill="#fffdfd"/>
<rect x="326" y="182" width="11" height="12" fill="#f9f9ff"/>
<rect x="337" y="182" width="12" height="12" fill="#ededff"/>
<rect x="349" y="182" width="11" height="12" fill="#f9f9ff"/>
<rect x="360" y="182" width="12" height="12" fill="#fff5f5"/>
<rect x="372" y="182" width="11" height="12" fill="#f5f5ff"/>
<rect x="383" y="182" width="12" height="12" fill="#ffdddd"/>
<rect x="395" y="182" width="12" height="12" fill="#ffe1e1"/>
<rect x="407" y="182" width="11" height="12" fill="#fdfdff"/>
<rect x="418" y="182" width="12" height="12" fill="#f9f9ff"/>
<rect x="430" y="182" width="11" height="12" fill="#ffeded"/>
<rect x="441" y="182" width="12" height="12" fill="#f9f9ff"/>
<rect x="453" y="182" width="11" height="12" fill="#d1d1ff"/>
<rect x="464" y="182" width="12" height="12" fill="#fff5f5"/>
<rect x="476" y="182" width="11" height="12" fill="#fffdfd"/>
<rect x="487" y="182" width="12.5" height="12" fill="#c8c8ff"/>
<rect x="37.5" y="194" width="11.5" height="11" fill="#f5f5ff"/>
<rect x="49" y="194" width="11" height="11" fill="#ededff"/>
<rect x="60" y="194" width="23" height="11" fill="#fffdfd"/>
<rect x="83" y="194" width="12" height="11" fill="#fdfdff"/>
<rect x="95" y="194" width="34" height="11" fill="#fffdfd"/>
<rect x="129" y="194" width="12" height="11" fill="#e8e8ff"/>
<rect x="141" y="194" width="23" height="11" fill="#fffdfd"/>
<rect x="164" y="194" width="12" height="11" fill="#fdfdff"/>
<rect x="176" y="194" width="11" height="11" fill="#fff9f9"/>
<rect x="187" y="194" width="35" height="11" fill="#fffdfd"/>
<rect x="222" y="194" width="11" height="11" fill="#ffe1e1"/>
<rect x="233" y="194" width="12" height="11" fill="#ffeded"/>
<rect x="245" y="194" width="23" height="11" fill="#fffdfd"/>
<rect x="268" y="194" width="12" height="11" fill="#fdfdff"/>
<rect x="280" y="194" width="11" height="11" fill="#fffdfd"/>
<rect x="291" y="194" width="12" height="11" fill="#fff9f9"/>
<rect x="303" y="194" width="11" height="11" fill="#fffdfd"/>
<rect x="314" y="194" width="12" height="11" fill="#c5c5ff"/>
<rect x="326" y="194" width="11" height="11" fill="#d5d5ff"/>
<rect x="337" y="194" width="46" height="11" fill="#fffdfd"/>
<rect x="383" y="194" width="12" height="11" fill="#f1f1ff"/>
<rect x="395" y="194" width="12" height="11" fill="#fffdfd"/>
<rect x="407" y="194" width="11" height="11" fill="#fff5f5"/>
<rect x="418" y="194" width="12" height="11" fill="#ffe9e9"/>
<rect x="430" y="194" width="46" height="11" fill="#fffdfd"/>
<rect x="476" y="194" width="11" height="11" fill="#fff9f9"/>
<rect x="487" y="194" width="12.5" height="11" fill="#fffdfd"/>
<rect x="37.5" y="205" width="11.5" height="12" fill="#ededff"/>
<rect x="49" y="205" width="11" height="12" fill="#f9f9ff"/>
<rect x="60" y="205" width="12" height="12" fill="#fff5f5"/>
<rect x="72" y="205" width="23" height="12" fill="#fffdfd"/>
<rect x="95" y="205" width="11" height="12" fill="#fff5f5"/>
<rect x="106" y="205" width="35" height="12" fill="#fffdfd"/>
<rect x="141" y="205" width="11" height="12" fill="#ffe1e1"/>
<rect x="152" y="205" width="12" height="12" fill="#ffe9e9"/>
<rect x="164" y="205" width="12" height="12" fill="#fff5f5"/>
<rect x="176" y="205" width="11" height="12" fill="#fffdfd"/>
<rect x="187" y="205" width="12" height="12" fill="#ffe9e9"/>
<rect x="199" y="205" width="11" height="12" fill="#fff5f5"/>
<rect x="210" y="205" width="12" height="12" fill="#f9f9ff"/>
<rect x="222" y="205" width="11" height="12" fill="#ffeded"/>
<rect x="233" y="205" width="12" height="12" fill="#ffe1e1"/>
<rect x="245" y="205" width="11" height="12" fill="#ffeded"/>
<rect x="256" y="205" width="12" height="12" fill="#fff9f9"/>
<rect x="268" y="205" width="12" height="12" fill="#fdfdff"/>
<rect x="280" y="205" width="11" height="12" fill="#ffeded"/>
<rect x="291" y="205" width="12" height="12" fill="#fff5f5"/>
<rect x="303" y="205" width="11" height="12" fill="#fffdfd"/>
<rect x="314" y="205" width="12" height="12" fill="#d5d5ff"/>
<rect x="326" y="205" width="11" height="12" fill="#ddddff"/>
<rect x="337" y="205" width="58" height="12" fill="#fffdfd"/>
<rect x="395" y="205" width="12" height="12" fill="#f9f9ff"/>
<rect x="407" y="205" width="11" height="12" fill="#ffe9e9"/>
<rect x="418" y="205" width="12" height="12" fill="#ffeded"/>
<rect x="430" y="205" width="11" height="12" fill="#fdfdff"/>
<rect x="441" y="205" width="12" height="12" fill="#fff1f1"/>
<rect x="453" y="205" width="23" height="12" fill="#fffdfd"/>
<rect x="476" y="205" width="11" height="12" fill="#fff5f5"/>
<rect x="487" y="205" width="12.5" height="12" fill="#fdfdff"/>
<rect x="37.5" y="217" width="11.5" height="11" fill="#fffdfd"/>
<rect x="49" y="217" width="23" height="11" fill="#fff5f5"/>
<rect x="72" y="217" width="11" height="11" fill="#fffdfd"/>
<rect x="83" y="217" width="12" height="11" fill="#fdfdff"/>
<rect x="95" y="217" width="11" height="11" fill="#fff5f5"/>
<rect x="106" y="217" width="12" height="11" fill="#fffdfd"/>
<rect x="118" y="217" width="11" height="11" fill="#f5f5ff"/>
<rect x="129" y="217" width="12" height="11" fill="#fffdfd"/>
<rect x="141" y="217" width="11" height="11" fill="#ffe9e9"/>
<rect x="152" y="217" width="12" height="11" fill="#2121ff"/>
<rect x="164" y="217" width="12" height="11" fill="#fff5f5"/>
<rect x="176" y="217" width="11" height="11" fill="#ffb1b1"/>
<rect x="187" y="217" width="12" height="11" fill="#b9b9ff"/>
<rect x="199" y="217" width="11" height="11" fill="#fff9f9"/>
<rect x="210" y="217" width="12" height="11" fill="#ffd1d1"/>
<rect x="222" y="217" width="11" height="11" fill="#fffdfd"/>
<rect x="233" y="217" width="12" height="11" fill="#ffeded"/>
<rect x="245" y="217" width="11" height="11" fill="#7f0000"/>
<rect x="256" y="217" width="12" height="11" fill="#fff9f9"/>
<rect x="268" y="217" width="12" height="11" fill="#5555ff"/>
<rect x="280" y="217" width="11" height="11" fill="#ff4949"/>
<rect x="291" y="217" width="12" height="11" fill="#fffdfd"/>
<rect x="303" y="217" width="11" height="11" fill="#9d9dff"/>
<rect x="314" y="217" width="23" height="11" fill="#fffdfd"/>
<rect x="337" y="217" width="12" height="11" fill="#8181ff"/>
<rect x="349" y="217" width="11" height="11" fill="#fffdfd"/>
<rect x="360" y="217" width="12" height="11" fill="#ffd5d5"/>
<rect x="372" y="217" width="11" height="11" fill="#d5d5ff"/>
<rect x="383" y="217" width="12" height="11" fill="#fffdfd"/>
<rect x="395" y="217" width="12" height="11" fill="#ffe9e9"/>
<rect x="407" y="217" width="11" height="11" fill="#fffdfd"/>
<rect x="418" y="217" width="12" height="11" fill="#fdfdff"/>
<rect x="430" y="217" width="11" height="11" fill="#ff7171"/>
<rect x="441" y="217" width="12" height="11" fill="#fff9f9"/>
<rect x="453" y="217" width="11" height="11" fill="#d1d1ff"/>
<rect x="464" y="217" width="12" height="11" fill="#ffc5c5"/>
<rect x="476" y="217" width="11" height="11" fill="#fff5f5"/>
<rect x="487" y="217" width="12.5" height="11" fill="#ededff"/>
<rect x="37.5" y="228" width="34.5" height="12" fill="#fffdfd"/>
<rect x="72" y="228" width="11" height="12" fill="#f5f5ff"/>
<rect x="83" y="228" width="12" height="12" fill="#fff5f5"/>
<rect x="95" y="228" width="11" height="12" fill="#fffdfd"/>
<rect x="106" y="228" width="12" height="12" fill="#f5f5ff"/>
<rect x="118" y="228" width="11" height="12" fill="#ffeded"/>
<rect x="129" y="228" width="12" height="12" fill="#fffdfd"/>
<rect x="141" y="228" width="35" height="12" fill="#fff5f5"/>
<rect x="176" y="228" width="11" height="12" fill="#fffdfd"/>
<rect x="187" y="228" width="12" height="12" fill="#fff5f5"/>
<rect x="199" y="228" width="11" height="12" fill="#fff9f9"/>
<rect x="210" y="228" width="12" height="12" fill="#f9f9ff"/>
<rect x="222" y="228" width="11" height="12" fill="#fffdfd"/>
<rect x="233" y="228" width="23" height="12" fill="#fff9f9"/>
<rect x="256" y="228" width="12" height="12" fill="#fff5f5"/>
<rect x="268" y="228" width="12" height="12" fill="#f9f9ff"/>
<rect x="280" y="228" width="11" height="12" fill="#fff9f9"/>
<rect x="291" y="228" width="12" height="12" fill="#ffeded"/>
<rect x="303" y="228" width="11" height="12" fill="#f5f5ff"/>
<rect x="314" y="228" width="23" height="12" fill="#fdfdff"/>
<rect x="337" y="228" width="12" height="12" fill="#fffdfd"/>
<rect x="349" y="228" width="11" height="12" fill="#f5f5ff"/>
<rect x="360" y="228" width="12" height="12" fill="#fff9f9"/>
<rect x="372" y="228" width="11" height="12" fill="#fffdfd"/>
<rect x="383" y="228" width="12" height="12" fill="#f5f5ff"/>
<rect x="395" y="228" width="12" height="12" fill="#fff5f5"/>
<rect x="407" y="228" width="11" height="12" fill="#fffdfd"/>
<rect x="418" y="228" width="12" height="12" fill="#fff5f5"/>
<rect x="430" y="228" width="11" height="12" fill="#fff9f9"/>
<rect x="441" y="228" width="12" height="12" fill="#ffeded"/>
<rect x="453" y="228" width="11" height="12" fill="#f9f9ff"/>
<rect x="464" y="228" width="12" height="12" fill="#fffdfd"/>
<rect x="476" y="228" width="11" height="12" fill="#ffeded"/>
<rect x="487" y="228" width="12.5" height="12" fill="#f5f5ff"/>
<rect x="37.5" y="240" width="11.5" height="12" fill="#f9f9ff"/>
<rect x="49" y="240" width="11" height="12" fill="#fffdfd"/>
<rect x="60" y="240" width="12" height="12" fill="#f9f9ff"/>
<rect x="72" y="240" width="11" height="12" fill="#fff5f5"/>
<rect x="83" y="240" width="12" height="12" fill="#ffeded"/>
<rect x="95" y="240" width="11" height="12" fill="#f5f5ff"/>
<rect x="106" y="240" width="12" height="12" fill="#fff5f5"/>
<rect x="118" y="240" width="11" height="12" fill="#ffe9e9"/>
<rect x="129" y="240" width="12" height="12" fill="#fff9f9"/>
<rect x="141" y="240" width="11" height="12" fill="#fffdfd"/>
<rect x="152" y="240" width="12" height="12" fill="#ffb1b1"/>
<rect x="164" y="240" width="12" height="12" fill="#fffdfd"/>
<rect x="176" y="240" width="11" height="12" fill="#8d8dff"/>
<rect x="187" y="240" width="12" height="12" fill="#ffd5d5"/>
<rect x="199" y="240" width="11" height="12" fill="#ededff"/>
<rect x="210" y="240" width="12" height="12" fill="#8888ff"/>
<rect x="222" y="240" width="23" height="12" fill="#fdfdff"/>
<rect x="245" y="240" width="11" height="12" fill="#5555ff"/>
<rect x="256" y="240" width="12" height="12" fill="#f9f9ff"/>
<rect x="268" y="240" width="12" height="12" fill="#ff2d2d"/>
<rect x="280" y="240" width="11" height="12" fill="#adadff"/>
<rect x="291" y="240" width="12" height="12" fill="#e8e8ff"/>
<rect x="303" y="240" width="11" height="12" fill="#ff2525"/>
<rect x="314" y="240" width="12" height="12" fill="#fffdfd"/>
<rect x="326" y="240" width="11" height="12" fill="#fdfdff"/>
<rect x="337" y="240" width="12" height="12" fill="#ffd5d5"/>
<rect x="349" y="240" width="11" height="12" fill="#fff1f1"/>
<rect x="360" y="240" width="12" height="12" fill="#a8a8ff"/>
<rect x="372" y="240" width="11" height="12" fill="#ffeded"/>
<rect x="383" y="240" width="12" height="12" fill="#ffd1d1"/>
<rect x="395" y="240" width="12" height="12" fill="#a8a8ff"/>
<rect x="407" y="240" width="11" height="12" fill="#fff5f5"/>
<rect x="418" y="240" width="12" height="12" fill="#fffdfd"/>
<rect x="430" y="240" width="11" height="12" fill="#d5d5ff"/>
<rect x="441" y="240" width="12" height="12" fill="#f5f5ff"/>
<rect x="453" y="240" width="11" height="12" fill="#ffd1d1"/>
<rect x="464" y="240" width="12" height="12" fill="#ededff"/>
<rect x="476" y="240" width="11" height="12" fill="#f9f9ff"/>
<rect x="487" y="240" width="12.5" height="12" fill="#ffd1d1"/>
<rect x="37.5" y="252" width="11.5" height="11" fill="#fffdfd"/>
<rect x="49" y="252" width="23" height="11" fill="#fff9f9"/>
<rect x="72" y="252" width="11" height="11" fill="#fffdfd"/>
<rect x="83" y="252" width="12" height="11" fill="#f5f5ff"/>
<rect x="95" y="252" width="23" height="11" fill="#fff5f5"/>
<rect x="118" y="252" width="11" height="11" fill="#f5f5ff"/>
<rect x="129" y="252" width="12" height="11" fill="#fffdfd"/>
<rect x="141" y="252" width="11" height="11" fill="#ffe9e9"/>
<rect x="152" y="252" width="12" height="11" fill="#bdbdff"/>
<rect x="164" y="252" width="12" height="11" fill="#fff5f5"/>
<rect x="176" y="252" width="11" height="11" fill="#ffd5d5"/>
<rect x="187" y="252" width="12" height="11" fill="#9595ff"/>
<rect x="199" y="252" width="11" height="11" fill="#ffeded"/>
<rect x="210" y="252" width="12" height="11" fill="#ffe9e9"/>
<rect x="222" y="252" width="11" height="11" fill="#fffdfd"/>
<rect x="233" y="252" width="12" height="11" fill="#ffeded"/>
<rect x="245" y="252" width="11" height="11" fill="#ff4949"/>
<rect x="256" y="252" width="12" height="11" fill="#fff9f9"/>
<rect x="268" y="252" width="12" height="11" fill="#adadff"/>
<rect x="280" y="252" width="11" height="11" fill="#ff0505"/>
<rect x="291" y="252" width="12" height="11" fill="#ffeded"/>
<rect x="303" y="252" width="11" height="11" fill="#b9b9ff"/>
<rect x="314" y="252" width="23" height="11" fill="#fffdfd"/>
<rect x="337" y="252" width="12" height="11" fill="#d1d1ff"/>
<rect x="349" y="252" width="11" height="11" fill="#fffdfd"/>
<rect x="360" y="252" width="12" height="11" fill="#ffe9e9"/>
<rect x="372" y="252" width="11" height="11" fill="#c5c5ff"/>
<rect x="383" y="252" width="12" height="11" fill="#fffdfd"/>
<rect x="395" y="252" width="12" height="11" fill="#ffeded"/>
<rect x="407" y="252" width="23" height="11" fill="#fffdfd"/>
<rect x="430" y="252" width="11" height="11" fill="#ffc5c5"/>
<rect x="441" y="252" width="12" height="11" fill="#fff5f5"/>
<rect x="453" y="252" width="11" height="11" fill="#ededff"/>
<rect x="464" y="252" width="12" height="11" fill="#ffb1b1"/>
<rect x="476" y="252" width="11" height="11" fill="#fffdfd"/>
<rect x="487" y="252" width="12.5" height="11" fill="#f5f5ff"/>
<rect x="37.5" y="263" width="34.5" height="12" fill="#fffdfd"/>
<rect x="72" y="263" width="11" height="12" fill="#ededff"/>
<rect x="83" y="263" width="23" height="12" fill="#fff5f5"/>
<rect x="106" y="263" width="35" height="12" fill="#fffdfd"/>
<rect x="141" y="263" width="35" height="12" fill="#fff5f5"/>
<rect x="176" y="263" width="11" height="12" fill="#ededff"/>
<rect x="187" y="263" width="12" height="12" fill="#ffeded"/>
<rect x="199" y="263" width="11" height="12" fill="#ffd1d1"/>
<rect x="210" y="263" width="12" height="12" fill="#ddddff"/>
<rect x="222" y="263" width="11" height="12" fill="#fff9f9"/>
<rect x="233" y="263" width="12" height="12" fill="#fff5f5"/>
<rect x="245" y="263" width="11" height="12" fill="#fffdfd"/>
<rect x="256" y="263" width="12" height="12" fill="#ffeded"/>
<rect x="268" y="263" width="12" height="12" fill="#e8e8ff"/>
<rect x="280" y="263" width="11" height="12" fill="#ffeded"/>
<rect x="291" y="263" width="12" height="12" fill="#ffc9c9"/>
<rect x="303" y="263" width="11" height="12" fill="#ddddff"/>
<rect x="314" y="263" width="12" height="12" fill="#f5f5ff"/>
<rect x="326" y="263" width="11" height="12" fill="#fdfdff"/>
<rect x="337" y="263" width="12" height="12" fill="#fffdfd"/>
<rect x="349" y="263" width="11" height="12" fill="#f5f5ff"/>
<rect x="360" y="263" width="12" height="12" fill="#ffdddd"/>
<rect x="372" y="263" width="11" height="12" fill="#fffdfd"/>
<rect x="383" y="263" width="12" height="12" fill="#bdbdff"/>
<rect x="395" y="263" width="12" height="12" fill="#ffc5c5"/>
<rect x="407" y="263" width="34" height="12" fill="#fff5f5"/>
<rect x="441" y="263" width="12" height="12" fill="#ffeded"/>
<rect x="453" y="263" width="11" height="12" fill="#f9f9ff"/>
<rect x="464" y="263" width="12" height="12" fill="#fdfdff"/>
<rect x="476" y="263" width="11" height="12" fill="#fff5f5"/>
<rect x="487" y="263" width="12.5" height="12" fill="#f5f5ff"/>
<rect x="37.5" y="275" width="22.5" height="11" fill="#fffdfd"/>
<rect x="60" y="275" width="12" height="11" fill="#f5f5ff"/>
<rect x="72" y="275" width="23" height="11" fill="#ffeded"/>
<rect x="95" y="275" width="11" height="11" fill="#f5f5ff"/>
<rect x="106" y="275" width="12" height="11" fill="#fffdfd"/>
<rect x="118" y="275" width="11" height="11" fill="#ffdddd"/>
<rect x="129" y="275" width="12" height="11" fill="#fffdfd"/>
<rect x="141" y="275" width="11" height="11" fill="#f9f9ff"/>
<rect x="152" y="275" width="12" height="11" fill="#ffc9c9"/>
<rect x="164" y="275" width="12" height="11" fill="#f9f9ff"/>
<rect x="176" y="275" width="11" height="11" fill="#8d8dff"/>
<rect x="187" y="275" width="12" height="11" fill="#ffe9e9"/>
<rect x="199" y="275" width="11" height="11" fill="#ddddff"/>
<rect x="210" y="275" width="12" height="11" fill="#6161ff"/>
<rect x="222" y="275" width="23" height="11" fill="#fffdfd"/>
<rect x="245" y="275" width="11" height="11" fill="#9d9dff"/>
<rect x="256" y="275" width="12" height="11" fill="#f5f5ff"/>
<rect x="268" y="275" width="12" height="11" fill="#ff2525"/>
<rect x="280" y="275" width="11" height="11" fill="#b9b9ff"/>
<rect x="291" y="275" width="12" height="11" fill="#ddddff"/>
<rect x="303" y="275" width="11" height="11" fill="#e30000"/>
<rect x="314" y="275" width="12" height="11" fill="#fffdfd"/>
<rect x="326" y="275" width="11" height="11" fill="#f9f9ff"/>
<rect x="337" y="275" width="12" height="11" fill="#ffe9e9"/>
<rect x="349" y="275" width="11" height="11" fill="#fff5f5"/>
<rect x="360" y="275" width="12" height="11" fill="#a8a8ff"/>
<rect x="372" y="275" width="11" height="11" fill="#ffeded"/>
<rect x="383" y="275" width="12" height="11" fill="#ffc5c5"/>
<rect x="395" y="275" width="12" height="11" fill="#8181ff"/>
<rect x="407" y="275" width="11" height="11" fill="#fdfdff"/>
<rect x="418" y="275" width="12" height="11" fill="#f9f9ff"/>
<rect x="430" y="275" width="11" height="11" fill="#ededff"/>
<rect x="441" y="275" width="12" height="11" fill="#f1f1ff"/>
<rect x="453" y="275" width="11" height="11" fill="#ffc9c9"/>
<rect x="464" y="275" width="23" height="11" fill="#f5f5ff"/>
<rect x="487" y="275" width="12.5" height="11" fill="#ffb1b1"/>
<rect x="37.5" y="286" width="11.5" height="12" fill="#ffdddd"/>
<rect x="49" y="286" width="11" height="12" fill="#ffd5d5"/>
<rect x="60" y="286" width="12" height="12" fill="#fffdfd"/>
<rect x="72" y="286" width="11" height="12" fill="#fff5f5"/>
<rect x="83" y="286" width="12" height="12" fill="#fff9f9"/>
<rect x="95" y="286" width="11" height="12" fill="#fffdfd"/>
<rect x="106" y="286" width="12" height="12" fill="#fff5f5"/>
<rect x="118" y="286" width="11" height="12" fill="#fffdfd"/>
<rect x="129" y="286" width="12" height="12" fill="#fff9f9"/>
<rect x="141" y="286" width="11" height="12" fill="#ededff"/>
<rect x="152" y="286" width="24" height="12" fill="#fffdfd"/>
<rect x="176" y="286" width="11" height="12" fill="#f9f9ff"/>
<rect x="187" y="286" width="12" height="12" fill="#fffdfd"/>
<rect x="199" y="286" width="11" height="12" fill="#f5f5ff"/>
<rect x="210" y="286" width="12" height="12" fill="#fffdfd"/>
<rect x="222" y="286" width="11" height="12" fill="#c5c5ff"/>
<rect x="233" y="286" width="12" height="12" fill="#d5d5ff"/>
<rect x="245" y="286" width="11" height="12" fill="#fffdfd"/>
<rect x="256" y="286" width="12" height="12" fill="#fdfdff"/>
<rect x="268" y="286" width="23" height="12" fill="#fffdfd"/>
<rect x="291" y="286" width="12" height="12" fill="#f5f5ff"/>
<rect x="303" y="286" width="11" height="12" fill="#fffdfd"/>
<rect x="314" y="286" width="12" height="12" fill="#ff5555"/>
<rect x="326" y="286" width="11" height="12" fill="#ff8d8d"/>
<rect x="337" y="286" width="46" height="12" fill="#fffdfd"/>
<rect x="383" y="286" width="12" height="12" fill="#ffc5c5"/>
<rect x="395" y="286" width="12" height="12" fill="#f5f5ff"/>
<rect x="407" y="286" width="23" height="12" fill="#bdbdff"/>
<rect x="430" y="286" width="11" height="12" fill="#fffdfd"/>
<rect x="441" y="286" width="12" height="12" fill="#fdfdff"/>
<rect x="453" y="286" width="11" height="12" fill="#f9f9ff"/>
<rect x="464" y="286" width="12" height="12" fill="#fffdfd"/>
<rect x="476" y="286" width="11" height="12" fill="#e8e8ff"/>
<rect x="487" y="286" width="12.5" height="12" fill="#fffdfd"/>
<rect x="37.5" y="298" width="11.5" height="11" fill="#ffd5d5"/>
<rect x="49" y="298" width="11" height="11" fill="#ffdddd"/>
<rect x="60" y="298" width="12" height="11" fill="#fffdfd"/>
<rect x="72" y="298" width="11" height="11" fill="#fff5f5"/>
<rect x="83" y="298" width="23" height="11" fill="#fffdfd"/>
<rect x="106" y="298" width="12" height="11" fill="#fff9f9"/>
<rect x="118" y="298" width="11" height="11" fill="#fffdfd"/>
<rect x="129" y="298" width="12" height="11" fill="#ededff"/>
<rect x="141" y="298" width="11" height="11" fill="#f5f5ff"/>
<rect x="152" y="298" width="12" height="11" fill="#fffdfd"/>
<rect x="164" y="298" width="12" height="11" fill="#fff9f9"/>
<rect x="176" y="298" width="11" height="11" fill="#fffdfd"/>
<rect x="187" y="298" width="23" height="11" fill="#fff9f9"/>
<rect x="210" y="298" width="12" height="11" fill="#f9f9ff"/>
<rect x="222" y="298" width="11" height="11" fill="#d5d5ff"/>
<rect x="233" y="298" width="12" height="11" fill="#ddddff"/>
<rect x="245" y="298" width="11" height="11" fill="#fffdfd"/>
<rect x="256" y="298" width="24" height="11" fill="#fdfdff"/>
<rect x="280" y="298" width="11" height="11" fill="#fffdfd"/>
<rect x="291" y="298" width="12" height="11" fill="#fdfdff"/>
<rect x="303" y="298" width="11" height="11" fill="#f9f9ff"/>
<rect x="314" y="298" width="23" height="11" fill="#ff8d8d"/>
<rect x="337" y="298" width="46" height="11" fill="#fffdfd"/>
<rect x="383" y="298" width="24" height="11" fill="#fff5f5"/>
<rect x="407" y="298" width="11" height="11" fill="#bdbdff"/>
<rect x="418" y="298" width="12" height="11" fill="#c5c5ff"/>
<rect x="430" y="298" width="11" height="11" fill="#fff9f9"/>
<rect x="441" y="298" width="23" height="11" fill="#fffdfd"/>
<rect x="464" y="298" width="12" height="11" fill="#fff9f9"/>
<rect x="476" y="298" width="11" height="11" fill="#fdfdff"/>
<rect x="487" y="298" width="12.5" height="11" fill="#f9f9ff"/>
<rect x="37.5" y="309" width="114.5" height="12" fill="#fffdfd"/>
<rect x="152" y="309" width="12" height="12" fill="#ffb9b9"/>
<rect x="164" y="309" width="12" height="12" fill="#fff5f5"/>
<rect x="176" y="309" width="11" height="12" fill="#e8e8ff"/>
<rect x="187" y="309" width="12" height="12" fill="#ffe9e9"/>
<rect x="199" y="309" width="11" height="12" fill="#fff5f5"/>
<rect x="210" y="309" width="12" height="12" fill="#ededff"/>
<rect x="222" y="309" width="23" height="12" fill="#fffdfd"/>
<rect x="245" y="309" width="11" height="12" fill="#8181ff"/>
<rect x="256" y="309" width="12" height="12" fill="#fffdfd"/>
<rect x="268" y="309" width="12" height="12" fill="#ffd5d5"/>
<rect x="280" y="309" width="11" height="12" fill="#d1d1ff"/>
<rect x="291" y="309" width="12" height="12" fill="#fffdfd"/>
<rect x="303" y="309" width="11" height="12" fill="#ffe9e9"/>
<rect x="314" y="309" width="23" height="12" fill="#fffdfd"/>
<rect x="337" y="309" width="12" height="12" fill="#ffd5d5"/>
<rect x="349" y="309" width="11" height="12" fill="#fffdfd"/>
<rect x="360" y="309" width="12" height="12" fill="#f5f5ff"/>
<rect x="372" y="309" width="11" height="12" fill="#fff5f5"/>
<rect x="383" y="309" width="12" height="12" fill="#fffdfd"/>
<rect x="395" y="309" width="12" height="12" fill="#f9f9ff"/>
<rect x="407" y="309" width="11" height="12" fill="#fffdfd"/>
<rect x="418" y="309" width="12" height="12" fill="#fff5f5"/>
<rect x="430" y="309" width="11" height="12" fill="#d5d5ff"/>
<rect x="441" y="309" width="12" height="12" fill="#fffdfd"/>
<rect x="453" y="309" width="11" height="12" fill="#ffeded"/>
<rect x="464" y="309" width="12" height="12" fill="#f5f5ff"/>
<rect x="476" y="309" width="23.5" height="12" fill="#fffdfd"/>
<rect x="37.5" y="321" width="22.5" height="11" fill="#fff9f9"/>
<rect x="60" y="321" width="12" height="11" fill="#fffdfd"/>
<rect x="72" y="321" width="11" height="11" fill="#ffe1e1"/>
<rect x="83" y="321" width="12" height="11" fill="#ededff"/>
<rect x="95" y="321" width="11" height="11" fill="#fffdfd"/>
<rect x="106" y="321" width="12" height="11" fill="#ffe1e1"/>
<rect x="118" y="321" width="11" height="11" fill="#e8e8ff"/>
<rect x="129" y="321" width="12" height="11" fill="#fffdfd"/>
<rect x="141" y="321" width="11" height="11" fill="#fff9f9"/>
<rect x="152" y="321" width="24" height="11" fill="#fff5f5"/>
<rect x="176" y="321" width="11" height="11" fill="#fffdfd"/>
<rect x="187" y="321" width="12" height="11" fill="#fff9f9"/>
<rect x="199" y="321" width="11" height="11" fill="#fff5f5"/>
<rect x="210" y="321" width="12" height="11" fill="#f9f9ff"/>
<rect x="222" y="321" width="34" height="11" fill="#fffdfd"/>
<rect x="256" y="321" width="12" height="11" fill="#f5f5ff"/>
<rect x="268" y="321" width="12" height="11" fill="#fff1f1"/>
<rect x="280" y="321" width="11" height="11" fill="#fffdfd"/>
<rect x="291" y="321" width="12" height="11" fill="#f5f5ff"/>
<rect x="303" y="321" width="11" height="11" fill="#fff5f5"/>
<rect x="314" y="321" width="35" height="11" fill="#fffdfd"/>
<rect x="349" y="321" width="11" height="11" fill="#ffe9e9"/>
<rect x="360" y="321" width="12" height="11" fill="#f5f5ff"/>
<rect x="372" y="321" width="11" height="11" fill="#fffdfd"/>
<rect x="383" y="321" width="12" height="11" fill="#ffe9e9"/>
<rect x="395" y="321" width="12" height="11" fill="#e8e8ff"/>
<rect x="407" y="321" width="23" height="11" fill="#fdfdff"/>
<rect x="430" y="321" width="11" height="11" fill="#fffdfd"/>
<rect x="441" y="321" width="12" height="11" fill="#ededff"/>
<rect x="453" y="321" width="11" height="11" fill="#fff1f1"/>
<rect x="464" y="321" width="12" height="11" fill="#fffdfd"/>
<rect x="476" y="321" width="11" height="11" fill="#f5f5ff"/>
<rect x="487" y="321" width="12.5" height="11" fill="#fff5f5"/>
<rect x="37.5" y="332" width="11.5" height="12" fill="#fff9f9"/>
<rect x="49" y="332" width="23" height="12" fill="#fffdfd"/>
<rect x="72" y="332" width="11" height="12" fill="#ededff"/>
<rect x="83" y="332" width="12" height="12" fill="#ffeded"/>
<rect x="95" y="332" width="11" height="12" fill="#fffdfd"/>
<rect x="106" y="332" width="12" height="12" fill="#ddddff"/>
<rect x="118" y="332" width="11" height="12" fill="#ffdddd"/>
<rect x="129" y="332" width="12" height="12" fill="#f9f9ff"/>
<rect x="141" y="332" width="11" height="12" fill="#fffdfd"/>
<rect x="152" y="332" width="12" height="12" fill="#e8e8ff"/>
<rect x="164" y="332" width="12" height="12" fill="#fffdfd"/>
<rect x="176" y="332" width="11" height="12" fill="#ffe1e1"/>
<rect x="187" y="332" width="12" height="12" fill="#f5f5ff"/>
<rect x="199" y="332" width="11" height="12" fill="#ffeded"/>
<rect x="210" y="332" width="12" height="12" fill="#fff5f5"/>
<rect x="222" y="332" width="23" height="12" fill="#fffdfd"/>
<rect x="245" y="332" width="11" height="12" fill="#ffd5d5"/>
<rect x="256" y="332" width="12" height="12" fill="#fff9f9"/>
<rect x="268" y="332" width="12" height="12" fill="#a8a8ff"/>
<rect x="280" y="332" width="11" height="12" fill="#ffe9e9"/>
<rect x="291" y="332" width="12" height="12" fill="#ffdddd"/>
<rect x="303" y="332" width="11" height="12" fill="#a8a8ff"/>
<rect x="314" y="332" width="23" height="12" fill="#fffdfd"/>
<rect x="337" y="332" width="23" height="12" fill="#f5f5ff"/>
<rect x="360" y="332" width="12" height="12" fill="#ff9494"/>
<rect x="372" y="332" width="11" height="12" fill="#f9f9ff"/>
<rect x="383" y="332" width="12" height="12" fill="#8181ff"/>
<rect x="395" y="332" width="12" height="12" fill="#ff8181"/>
<rect x="407" y="332" width="11" height="12" fill="#f9f9ff"/>
<rect x="418" y="332" width="12" height="12" fill="#fffdfd"/>
<rect x="430" y="332" width="23" height="12" fill="#ffeded"/>
<rect x="453" y="332" width="11" height="12" fill="#d5d5ff"/>
<rect x="464" y="332" width="12" height="12" fill="#fff9f9"/>
<rect x="476" y="332" width="11" height="12" fill="#ffc9c9"/>
<rect x="487" y="332" width="12.5" height="12" fill="#c5c5ff"/>
<rect x="37.5" y="344" width="103.5" height="11" fill="#fffdfd"/>
<rect x="141" y="344" width="11" height="11" fill="#fff9f9"/>
<rect x="152" y="344" width="12" height="11" fill="#ffe1e1"/>
<rect x="164" y="344" width="12" height="11" fill="#fff9f9"/>
<rect x="176" y="344" width="11" height="11" fill="#f5f5ff"/>
<rect x="187" y="344" width="12" height="11" fill="#ffdddd"/>
<rect x="199" y="344" width="11" height="11" fill="#fffdfd"/>
<rect x="210" y="344" width="12" height="11" fill="#f5f5ff"/>
<rect x="222" y="344" width="23" height="11" fill="#fffdfd"/>
<rect x="245" y="344" width="11" height="11" fill="#d5d5ff"/>
<rect x="256" y="344" width="12" height="11" fill="#fffdfd"/>
<rect x="268" y="344" width="12" height="11" fill="#ffeded"/>
<rect x="280" y="344" width="11" height="11" fill="#c5c5ff"/>
<rect x="291" y="344" width="12" height="11" fill="#fffdfd"/>
<rect x="303" y="344" width="11" height="11" fill="#ffeded"/>
<rect x="314" y="344" width="23" height="11" fill="#fffdfd"/>
<rect x="337" y="344" width="12" height="11" fill="#fff5f5"/>
<rect x="349" y="344" width="11" height="11" fill="#fffdfd"/>
<rect x="360" y="344" width="12" height="11" fill="#f9f9ff"/>
<rect x="372" y="344" width="11" height="11" fill="#ffe9e9"/>
<rect x="383" y="344" width="12" height="11" fill="#fffdfd"/>
<rect x="395" y="344" width="12" height="11" fill="#f9f9ff"/>
<rect x="407" y="344" width="11" height="11" fill="#fffdfd"/>
<rect x="418" y="344" width="12" height="11" fill="#fff9f9"/>
<rect x="430" y="344" width="11" height="11" fill="#f5f5ff"/>
<rect x="441" y="344" width="12" height="11" fill="#fffdfd"/>
<rect x="453" y="344" width="11" height="11" fill="#fff9f9"/>
<rect x="464" y="344" width="12" height="11" fill="#ededff"/>
<rect x="476" y="344" width="23.5" height="11" fill="#fffdfd"/>
<rect x="37.5" y="355" width="22.5" height="12" fill="#fff5f5"/>
<rect x="60" y="355" width="12" height="12" fill="#fffdfd"/>
<rect x="72" y="355" width="11" height="12" fill="#ffe1e1"/>
<rect x="83" y="355" width="12" height="12" fill="#d5d5ff"/>
<rect x="95" y="355" width="11" height="12" fill="#fffdfd"/>
<rect x="106" y="355" width="12" height="12" fill="#ffc5c5"/>
<rect x="118" y="355" width="11" height="12" fill="#c8c8ff"/>
<rect x="129" y="355" width="12" height="12" fill="#f5f5ff"/>
<rect x="141" y="355" width="35" height="12" fill="#fff5f5"/>
<rect x="176" y="355" width="11" height="12" fill="#ffe9e9"/>
<rect x="187" y="355" width="12" height="12" fill="#fffdfd"/>
<rect x="199" y="355" width="11" height="12" fill="#d1d1ff"/>
<rect x="210" y="355" width="12" height="12" fill="#ffdddd"/>
<rect x="222" y="355" width="11" height="12" fill="#f1f1ff"/>
<rect x="233" y="355" width="23" height="12" fill="#fffdfd"/>
<rect x="256" y="355" width="12" height="12" fill="#f5f5ff"/>
<rect x="268" y="355" width="12" height="12" fill="#ffd1d1"/>
<rect x="280" y="355" width="11" height="12" fill="#fffdfd"/>
<rect x="291" y="355" width="12" height="12" fill="#bdbdff"/>
<rect x="303" y="355" width="23" height="12" fill="#ffc5c5"/>
<rect x="326" y="355" width="11" height="12" fill="#fff5f5"/>
<rect x="337" y="355" width="12" height="12" fill="#fffdfd"/>
<rect x="349" y="355" width="11" height="12" fill="#ffe9e9"/>
<rect x="360" y="355" width="12" height="12" fill="#8181ff"/>
<rect x="372" y="355" width="11" height="12" fill="#fffdfd"/>
<rect x="383" y="355" width="12" height="12" fill="#ff1d1d"/>
<rect x="395" y="355" width="12" height="12" fill="#4545ff"/>
<rect x="407" y="355" width="11" height="12" fill="#e8e8ff"/>
<rect x="418" y="355" width="23" height="12" fill="#fffdfd"/>
<rect x="441" y="355" width="12" height="12" fill="#ededff"/>
<rect x="453" y="355" width="11" height="12" fill="#ffc5c5"/>
<rect x="464" y="355" width="12" height="12" fill="#fffdfd"/>
<rect x="476" y="355" width="11" height="12" fill="#9d9dff"/>
<rect x="487" y="355" width="12.5" height="12" fill="#ffa9a9"/>
<rect x="37.5" y="367" width="34.5" height="12" fill="#fffdfd"/>
<rect x="72" y="367" width="11" height="12" fill="#e8e8ff"/>
<rect x="83" y="367" width="12" height="12" fill="#ffe1e1"/>
<rect x="95" y="367" width="11" height="12" fill="#fffdfd"/>
<rect x="106" y="367" width="12" height="12" fill="#d1d1ff"/>
<rect x="118" y="367" width="11" height="12" fill="#ffd5d5"/>
<rect x="129" y="367" width="12" height="12" fill="#fffdfd"/>
<rect x="141" y="367" width="11" height="12" fill="#f9f9ff"/>
<rect x="152" y="367" width="12" height="12" fill="#e8e8ff"/>
<rect x="164" y="367" width="12" height="12" fill="#f9f9ff"/>
<rect x="176" y="367" width="11" height="12" fill="#ffeded"/>
<rect x="187" y="367" width="12" height="12" fill="#f5f5ff"/>
<rect x="199" y="367" width="11" height="12" fill="#ffdddd"/>
<rect x="210" y="367" width="12" height="12" fill="#ffe1e1"/>
<rect x="222" y="367" width="11" height="12" fill="#fffdfd"/>
<rect x="233" y="367" width="12" height="12" fill="#f9f9ff"/>
<rect x="245" y="367" width="11" height="12" fill="#ffe9e9"/>
<rect x="256" y="367" width="12" height="12" fill="#fff5f5"/>
<rect x="268" y="367" width="12" height="12" fill="#a8a8ff"/>
<rect x="280" y="367" width="11" height="12" fill="#ffeded"/>
<rect x="291" y="367" width="12" height="12" fill="#ffc5c5"/>
<rect x="303" y="367" width="11" height="12" fill="#8181ff"/>
<rect x="314" y="367" width="12" height="12" fill="#f5f5ff"/>
<rect x="326" y="367" width="11" height="12" fill="#fff5f5"/>
<rect x="337" y="367" width="12" height="12" fill="#f9f9ff"/>
<rect x="349" y="367" width="11" height="12" fill="#e8e8ff"/>
<rect x="360" y="367" width="12" height="12" fill="#ff8181"/>
<rect x="372" y="367" width="11" height="12" fill="#f9f9ff"/>
<rect x="383" y="367" width="12" height="12" fill="#4545ff"/>
<rect x="395" y="367" width="12" height="12" fill="#ff4949"/>
<rect x="407" y="367" width="11" height="12" fill="#fffdfd"/>
<rect x="418" y="367" width="12" height="12" fill="#fdfdff"/>
<rect x="430" y="367" width="11" height="12" fill="#fffdfd"/>
<rect x="441" y="367" width="12" height="12" fill="#ffeded"/>
<rect x="453" y="367" width="11" height="12" fill="#bdbdff"/>
<rect x="464" y="367" width="12" height="12" fill="#fffdfd"/>
<rect x="476" y="367" width="11" height="12" fill="#ffa9a9"/>
<rect x="487" y="367" width="12.5" height="12" fill="#a5a5ff"/>
<rect x="37.5" y="379" width="11.5" height="11" fill="#c8c8ff"/>
<rect x="49" y="379" width="11" height="11" fill="#e1e1ff"/>
<rect x="60" y="379" width="12" height="11" fill="#fffdfd"/>
<rect x="72" y="379" width="11" height="11" fill="#fdfdff"/>
<rect x="83" y="379" width="23" height="11" fill="#fffdfd"/>
<rect x="106" y="379" width="12" height="11" fill="#f9f9ff"/>
<rect x="118" y="379" width="11" height="11" fill="#fffdfd"/>
<rect x="129" y="379" width="12" height="11" fill="#ffc9c9"/>
<rect x="141" y="379" width="11" height="11" fill="#fff5f5"/>
<rect x="152" y="379" width="12" height="11" fill="#fffdfd"/>
<rect x="164" y="379" width="12" height="11" fill="#fdfdff"/>
<rect x="176" y="379" width="11" height="11" fill="#f5f5ff"/>
<rect x="187" y="379" width="12" height="11" fill="#fffdfd"/>
<rect x="199" y="379" width="11" height="11" fill="#fff9f9"/>
<rect x="210" y="379" width="12" height="11" fill="#fdfdff"/>
<rect x="222" y="379" width="11" height="11" fill="#fff5f5"/>
<rect x="233" y="379" width="12" height="11" fill="#ffe9e9"/>
<rect x="245" y="379" width="23" height="11" fill="#fffdfd"/>
<rect x="268" y="379" width="12" height="11" fill="#fff5f5"/>
<rect x="280" y="379" width="11" height="11" fill="#fffdfd"/>
<rect x="291" y="379" width="12" height="11" fill="#fff5f5"/>
<rect x="303" y="379" width="11" height="11" fill="#fdfdff"/>
<rect x="314" y="379" width="23" height="11" fill="#bdbdff"/>
<rect x="337" y="379" width="12" height="11" fill="#fffdfd"/>
<rect x="349" y="379" width="11" height="11" fill="#fdfdff"/>
<rect x="360" y="379" width="12" height="11" fill="#f9f9ff"/>
<rect x="372" y="379" width="11" height="11" fill="#fffdfd"/>
<rect x="383" y="379" width="12" height="11" fill="#e8e8ff"/>
<rect x="395" y="379" width="12" height="11" fill="#fffdfd"/>
<rect x="407" y="379" width="11" height="11" fill="#ffbdbd"/>
<rect x="418" y="379" width="12" height="11" fill="#ffdddd"/>
<rect x="430" y="379" width="23" height="11" fill="#fffdfd"/>
<rect x="453" y="379" width="11" height="11" fill="#fdfdff"/>
<rect x="464" y="379" width="12" height="11" fill="#fffdfd"/>
<rect x="476" y="379" width="11" height="11" fill="#fff5f5"/>
<rect x="487" y="379" width="12.5" height="11" fill="#fffdfd"/>
<rect x="37.5" y="390" width="11.5" height="12" fill="#e1e1ff"/>
<rect x="49" y="390" width="11" height="12" fill="#d5d5ff"/>
<rect x="60" y="390" width="12" height="12" fill="#f5f5ff"/>
<rect x="72" y="390" width="11" height="12" fill="#f9f9ff"/>
<rect x="83" y="390" width="12" height="12" fill="#fffdfd"/>
<rect x="95" y="390" width="11" height="12" fill="#f9f9ff"/>
<rect x="106" y="390" width="23" height="12" fill="#fffdfd"/>
<rect x="129" y="390" width="12" height="12" fill="#fff5f5"/>
<rect x="141" y="390" width="11" height="12" fill="#fff9f9"/>
<rect x="152" y="390" width="12" height="12" fill="#fffdfd"/>
<rect x="164" y="390" width="12" height="12" fill="#fff5f5"/>
<rect x="176" y="390" width="11" height="12" fill="#fffdfd"/>
<rect x="187" y="390" width="12" height="12" fill="#fff9f9"/>
<rect x="199" y="390" width="11" height="12" fill="#fff5f5"/>
<rect x="210" y="390" width="12" height="12" fill="#f9f9ff"/>
<rect x="222" y="390" width="11" height="12" fill="#ffe9e9"/>
<rect x="233" y="390" width="12" height="12" fill="#ffeded"/>
<rect x="245" y="390" width="11" height="12" fill="#fdfdff"/>
<rect x="256" y="390" width="12" height="12" fill="#fff5f5"/>
<rect x="268" y="390" width="23" height="12" fill="#fffdfd"/>
<rect x="291" y="390" width="12" height="12" fill="#fff5f5"/>
<rect x="303" y="390" width="11" height="12" fill="#f9f9ff"/>
<rect x="314" y="390" width="12" height="12" fill="#bdbdff"/>
<rect x="326" y="390" width="11" height="12" fill="#c5c5ff"/>
<rect x="337" y="390" width="12" height="12" fill="#fff5f5"/>
<rect x="349" y="390" width="11" height="12" fill="#fdfdff"/>
<rect x="360" y="390" width="12" height="12" fill="#fffdfd"/>
<rect x="372" y="390" width="11" height="12" fill="#fff9f9"/>
<rect x="383" y="390" width="12" height="12" fill="#fffdfd"/>
<rect x="395" y="390" width="12" height="12" fill="#fdfdff"/>
<rect x="407" y="390" width="11" height="12" fill="#ffdddd"/>
<rect x="418" y="390" width="12" height="12" fill="#ffc9c9"/>
<rect x="430" y="390" width="11" height="12" fill="#ffe9e9"/>
<rect x="441" y="390" width="12" height="12" fill="#ffeded"/>
<rect x="453" y="390" width="11" height="12" fill="#fffdfd"/>
<rect x="464" y="390" width="12" height="12" fill="#ffeded"/>
<rect x="476" y="390" width="11" height="12" fill="#fff5f5"/>
<rect x="487" y="390" width="12.5" height="12" fill="#fffdfd"/>
<rect x="37.5" y="402" width="11.5" height="11" fill="#fffdfd"/>
<rect x="49" y="402" width="11" height="11" fill="#f5f5ff"/>
<rect x="60" y="402" width="12" height="11" fill="#d1d1ff"/>
<rect x="72" y="402" width="11" height="11" fill="#fffdfd"/>
<rect x="83" y="402" width="12" height="11" fill="#ffeded"/>
<rect x="95" y="402" width="11" height="11" fill="#ededff"/>
<rect x="106" y="402" width="23" height="11" fill="#fff9f9"/>
<rect x="129" y="402" width="23" height="11" fill="#fffdfd"/>
<rect x="152" y="402" width="12" height="11" fill="#a8a8ff"/>
<rect x="164" y="402" width="12" height="11" fill="#fff5f5"/>
<rect x="176" y="402" width="11" height="11" fill="#ffdddd"/>
<rect x="187" y="402" width="12" height="11" fill="#e8e8ff"/>
<rect x="199" y="402" width="11" height="11" fill="#fff1f1"/>
<rect x="210" y="402" width="12" height="11" fill="#ffeded"/>
<rect x="222" y="402" width="11" height="11" fill="#fffdfd"/>
<rect x="233" y="402" width="12" height="11" fill="#fdfdff"/>
<rect x="245" y="402" width="11" height="11" fill="#ff7171"/>
<rect x="256" y="402" width="12" height="11" fill="#fff9f9"/>
<rect x="268" y="402" width="12" height="11" fill="#d5d5ff"/>
<rect x="280" y="402" width="11" height="11" fill="#ffc5c5"/>
<rect x="291" y="402" width="12" height="11" fill="#fff5f5"/>
<rect x="303" y="402" width="11" height="11" fill="#ededff"/>
<rect x="314" y="402" width="12" height="11" fill="#fffdfd"/>
<rect x="326" y="402" width="11" height="11" fill="#fff9f9"/>
<rect x="337" y="402" width="12" height="11" fill="#d5d5ff"/>
<rect x="349" y="402" width="11" height="11" fill="#fffdfd"/>
<rect x="360" y="402" width="12" height="11" fill="#ffeded"/>
<rect x="372" y="402" width="11" height="11" fill="#f5f5ff"/>
<rect x="383" y="402" width="35" height="11" fill="#fffdfd"/>
<rect x="418" y="402" width="12" height="11" fill="#ffe9e9"/>
<rect x="430" y="402" width="11" height="11" fill="#ff9d9d"/>
<rect x="441" y="402" width="12" height="11" fill="#fff5f5"/>
<rect x="453" y="402" width="11" height="11" fill="#e1e1ff"/>
<rect x="464" y="402" width="12" height="11" fill="#ffd1d1"/>
<rect x="476" y="402" width="11" height="11" fill="#fffdfd"/>
<rect x="487" y="402" width="12.5" height="11" fill="#ededff"/>
<rect x="37.5" y="413" width="11.5" height="12" fill="#fdfdff"/>
<rect x="49" y="413" width="11" height="12" fill="#f9f9ff"/>
<rect x="60" y="413" width="12" height="12" fill="#fffdfd"/>
<rect x="72" y="413" width="11" height="12" fill="#e8e8ff"/>
<rect x="83" y="413" width="12" height="12" fill="#ffeded"/>
<rect x="95" y="413" width="11" height="12" fill="#fffdfd"/>
<rect x="106" y="413" width="12" height="12" fill="#e1e1ff"/>
<rect x="118" y="413" width="11" height="12" fill="#ffe9e9"/>
<rect x="129" y="413" width="12" height="12" fill="#fffdfd"/>
<rect x="141" y="413" width="35" height="12" fill="#fff5f5"/>
<rect x="176" y="413" width="11" height="12" fill="#fffdfd"/>
<rect x="187" y="413" width="23" height="12" fill="#fff5f5"/>
<rect x="210" y="413" width="12" height="12" fill="#f9f9ff"/>
<rect x="222" y="413" width="11" height="12" fill="#fffdfd"/>
<rect x="233" y="413" width="12" height="12" fill="#fff1f1"/>
<rect x="245" y="413" width="11" height="12" fill="#fff9f9"/>
<rect x="256" y="413" width="12" height="12" fill="#ffeded"/>
<rect x="268" y="413" width="12" height="12" fill="#f5f5ff"/>
<rect x="280" y="413" width="11" height="12" fill="#fff5f5"/>
<rect x="291" y="413" width="12" height="12" fill="#ffeded"/>
<rect x="303" y="413" width="11" height="12" fill="#f1f1ff"/>
<rect x="314" y="413" width="12" height="12" fill="#fdfdff"/>
<rect x="326" y="413" width="23" height="12" fill="#fffdfd"/>
<rect x="349" y="413" width="11" height="12" fill="#ededff"/>
<rect x="360" y="413" width="12" height="12" fill="#ffeded"/>
<rect x="372" y="413" width="11" height="12" fill="#fffdfd"/>
<rect x="383" y="413" width="12" height="12" fill="#ededff"/>
<rect x="395" y="413" width="12" height="12" fill="#ffeded"/>
<rect x="407" y="413" width="11" height="12" fill="#fffdfd"/>
<rect x="418" y="413" width="12" height="12" fill="#ffeded"/>
<rect x="430" y="413" width="11" height="12" fill="#fff5f5"/>
<rect x="441" y="413" width="12" height="12" fill="#ffe9e9"/>
<rect x="453" y="413" width="11" height="12" fill="#f5f5ff"/>
<rect x="464" y="413" width="12" height="12" fill="#fff5f5"/>
<rect x="476" y="413" width="11" height="12" fill="#ffeded"/>
<rect x="487" y="413" width="12.5" height="12" fill="#f5f5ff"/>
<rect x="37.5" y="425" width="22.5" height="11" fill="#fffdfd"/>
<rect x="60" y="425" width="23" height="11" fill="#ffeded"/>
<rect x="83" y="425" width="12" height="11" fill="#d1d1ff"/>
<rect x="95" y="425" width="11" height="11" fill="#fff5f5"/>
<rect x="106" y="425" width="12" height="11" fill="#ffdddd"/>
<rect x="118" y="425" width="11" height="11" fill="#ddddff"/>
<rect x="129" y="425" width="12" height="11" fill="#f5f5ff"/>
<rect x="141" y="425" width="11" height="11" fill="#fffdfd"/>
<rect x="152" y="425" width="12" height="11" fill="#ffd5d5"/>
<rect x="164" y="425" width="12" height="11" fill="#fffdfd"/>
<rect x="176" y="425" width="11" height="11" fill="#f9f9ff"/>
<rect x="187" y="425" width="12" height="11" fill="#ffeded"/>
<rect x="199" y="425" width="11" height="11" fill="#fff9f9"/>
<rect x="210" y="425" width="12" height="11" fill="#d1d1ff"/>
<rect x="222" y="425" width="23" height="11" fill="#fffdfd"/>
<rect x="245" y="425" width="11" height="11" fill="#d1d1ff"/>
<rect x="256" y="425" width="12" height="11" fill="#f9f9ff"/>
<rect x="268" y="425" width="12" height="11" fill="#ffd1d1"/>
<rect x="280" y="425" width="11" height="11" fill="#ededff"/>
<rect x="291" y="425" width="12" height="11" fill="#f9f9ff"/>
<rect x="303" y="425" width="11" height="11" fill="#ffc9c9"/>
<rect x="314" y="425" width="12" height="11" fill="#f9f9ff"/>
<rect x="326" y="425" width="11" height="11" fill="#fffdfd"/>
<rect x="337" y="425" width="12" height="11" fill="#ffeded"/>
<rect x="349" y="425" width="11" height="11" fill="#fff1f1"/>
<rect x="360" y="425" width="12" height="11" fill="#d5d5ff"/>
<rect x="372" y="425" width="11" height="11" fill="#fff9f9"/>
<rect x="383" y="425" width="12" height="11" fill="#ffc5c5"/>
<rect x="395" y="425" width="12" height="11" fill="#bdbdff"/>
<rect x="407" y="425" width="11" height="11" fill="#fdfdff"/>
<rect x="418" y="425" width="12" height="11" fill="#fffdfd"/>
<rect x="430" y="425" width="11" height="11" fill="#e1e1ff"/>
<rect x="441" y="425" width="12" height="11" fill="#f5f5ff"/>
<rect x="453" y="425" width="11" height="11" fill="#ffb9b9"/>
<rect x="464" y="425" width="12" height="11" fill="#ededff"/>
<rect x="476" y="425" width="11" height="11" fill="#d1d1ff"/>
<rect x="487" y="425" width="12.5" height="11" fill="#ffc9c9"/>
<rect x="37.5" y="436" width="11.5" height="12" fill="#fffdfd"/>
<rect x="49" y="436" width="11" height="12" fill="#f9f9ff"/>
<rect x="60" y="436" width="12" height="12" fill="#ededff"/>
<rect x="72" y="436" width="11" height="12" fill="#fffdfd"/>
<rect x="83" y="436" width="12" height="12" fill="#fff5f5"/>
<rect x="95" y="436" width="11" height="12" fill="#e8e8ff"/>
<rect x="106" y="436" width="12" height="12" fill="#f9f9ff"/>
<rect x="118" y="436" width="23" height="12" fill="#fffdfd"/>
<rect x="141" y="436" width="11" height="12" fill="#fff5f5"/>
<rect x="152" y="436" width="12" height="12" fill="#e8e8ff"/>
<rect x="164" y="436" width="12" height="12" fill="#fff5f5"/>
<rect x="176" y="436" width="11" height="12" fill="#ffeded"/>
<rect x="187" y="436" width="12" height="12" fill="#ddddff"/>
<rect x="199" y="436" width="11" height="12" fill="#fffdfd"/>
<rect x="210" y="436" width="12" height="12" fill="#fff5f5"/>
<rect x="222" y="436" width="23" height="12" fill="#fffdfd"/>
<rect x="245" y="436" width="11" height="12" fill="#ffc5c5"/>
<rect x="256" y="436" width="12" height="12" fill="#fffdfd"/>
<rect x="268" y="436" width="12" height="12" fill="#ededff"/>
<rect x="280" y="436" width="11" height="12" fill="#ffb1b1"/>
<rect x="291" y="436" width="12" height="12" fill="#fdfdff"/>
<rect x="303" y="436" width="11" height="12" fill="#f5f5ff"/>
<rect x="314" y="436" width="12" height="12" fill="#fffdfd"/>
<rect x="326" y="436" width="11" height="12" fill="#fff9f9"/>
<rect x="337" y="436" width="12" height="12" fill="#f5f5ff"/>
<rect x="349" y="436" width="11" height="12" fill="#fffdfd"/>
<rect x="360" y="436" width="12" height="12" fill="#fff9f9"/>
<rect x="372" y="436" width="11" height="12" fill="#ededff"/>
<rect x="383" y="436" width="35" height="12" fill="#fffdfd"/>
<rect x="418" y="436" width="12" height="12" fill="#ffeded"/>
<rect x="430" y="436" width="11" height="12" fill="#ffd1d1"/>
<rect x="441" y="436" width="12" height="12" fill="#fff5f5"/>
<rect x="453" y="436" width="11" height="12" fill="#ededff"/>
<rect x="464" y="436" width="12" height="12" fill="#ffc9c9"/>
<rect x="476" y="436" width="11" height="12" fill="#ffeded"/>
<rect x="487" y="436" width="12.5" height="12" fill="#ededff"/>
<rect x="37.5" y="448" width="11.5" height="11" fill="#f9f9ff"/>
<rect x="49" y="448" width="11" height="11" fill="#fffdfd"/>
<rect x="60" y="448" width="12" height="11" fill="#fff5f5"/>
<rect x="72" y="448" width="11" height="11" fill="#e5e5ff"/>
<rect x="83" y="448" width="12" height="11" fill="#ffdddd"/>
<rect x="95" y="448" width="11" height="11" fill="#f9f9ff"/>
<rect x="106" y="448" width="12" height="11" fill="#bdbdff"/>
<rect x="118" y="448" width="11" height="11" fill="#ffbdbd"/>
<rect x="129" y="448" width="12" height="11" fill="#fff9f9"/>
<rect x="141" y="448" width="11" height="11" fill="#fff5f5"/>
<rect x="152" y="448" width="12" height="11" fill="#ffeded"/>
<rect x="164" y="448" width="12" height="11" fill="#fff5f5"/>
<rect x="176" y="448" width="11" height="11" fill="#fff9f9"/>
<rect x="187" y="448" width="12" height="11" fill="#fffdfd"/>
<rect x="199" y="448" width="11" height="11" fill="#f9f9ff"/>
<rect x="210" y="448" width="12" height="11" fill="#fffdfd"/>
<rect x="222" y="448" width="11" height="11" fill="#fff9f9"/>
<rect x="233" y="448" width="23" height="11" fill="#fff5f5"/>
<rect x="256" y="448" width="12" height="11" fill="#ffeded"/>
<rect x="268" y="448" width="12" height="11" fill="#f9f9ff"/>
<rect x="280" y="448" width="11" height="11" fill="#fffdfd"/>
<rect x="291" y="448" width="12" height="11" fill="#fff5f5"/>
<rect x="303" y="448" width="11" height="11" fill="#f5f5ff"/>
<rect x="314" y="448" width="12" height="11" fill="#e8e8ff"/>
<rect x="326" y="448" width="11" height="11" fill="#fdfdff"/>
<rect x="337" y="448" width="12" height="11" fill="#fffdfd"/>
<rect x="349" y="448" width="11" height="11" fill="#f5f5ff"/>
<rect x="360" y="448" width="12" height="11" fill="#ffc9c9"/>
<rect x="372" y="448" width="11" height="11" fill="#fffdfd"/>
<rect x="383" y="448" width="12" height="11" fill="#9d9dff"/>
<rect x="395" y="448" width="12" height="11" fill="#ffa9a9"/>
<rect x="407" y="448" width="23" height="11" fill="#fff5f5"/>
<rect x="430" y="448" width="11" height="11" fill="#fffdfd"/>
<rect x="441" y="448" width="12" height="11" fill="#ffeded"/>
<rect x="453" y="448" width="11" height="11" fill="#d1d1ff"/>
<rect x="464" y="448" width="12" height="11" fill="#ffeded"/>
<rect x="476" y="448" width="11" height="11" fill="#ff9494"/>
<rect x="487" y="448" width="12.5" height="11" fill="#b9b9ff"/>
<rect x="37.5" y="459" width="22.5" height="12.5" fill="#fffdfd"/>
<rect x="60" y="459" width="12" height="12.5" fill="#fff9f9"/>
<rect x="72" y="459" width="11" height="12.5" fill="#ffe9e9"/>
<rect x="83" y="459" width="12" height="12.5" fill="#ddddff"/>
<rect x="95" y="459" width="11" height="12.5" fill="#fffdfd"/>
<rect x="106" y="459" width="12" height="12.5" fill="#ffc9c9"/>
<rect x="118" y="459" width="11" height="12.5" fill="#d1d1ff"/>
<rect x="129" y="459" width="12" height="12.5" fill="#fffdfd"/>
<rect x="141" y="459" width="11" height="12.5" fill="#fdfdff"/>
<rect x="152" y="459" width="12" height="12.5" fill="#ffeded"/>
<rect x="164" y="459" width="12" height="12.5" fill="#fdfdff"/>
<rect x="176" y="459" width="11" height="12.5" fill="#d5d5ff"/>
<rect x="187" y="459" width="12" height="12.5" fill="#fff9f9"/>
<rect x="199" y="459" width="11" height="12.5" fill="#fffdfd"/>
<rect x="210" y="459" width="12" height="12.5" fill="#c8c8ff"/>
<rect x="222" y="459" width="11" height="12.5" fill="#fffdfd"/>
<rect x="233" y="459" width="12" height="12.5" fill="#fdfdff"/>
<rect x="245" y="459" width="11" height="12.5" fill="#ededff"/>
<rect x="256" y="459" width="12" height="12.5" fill="#f5f5ff"/>
<rect x="268" y="459" width="12" height="12.5" fill="#ffd1d1"/>
<rect x="280" y="459" width="23" height="12.5" fill="#f5f5ff"/>
<rect x="303" y="459" width="11" height="12.5" fill="#ffb1b1"/>
<rect x="314" y="459" width="12" height="12.5" fill="#fffdfd"/>
<rect x="326" y="459" width="11" height="12.5" fill="#f9f9ff"/>
<rect x="337" y="459" width="12" height="12.5" fill="#fffdfd"/>
<rect x="349" y="459" width="11" height="12.5" fill="#fff5f5"/>
<rect x="360" y="459" width="12" height="12.5" fill="#c5c5ff"/>
<rect x="372" y="459" width="11" height="12.5" fill="#fffdfd"/>
<rect x="383" y="459" width="12" height="12.5" fill="#ffa9a9"/>
<rect x="395" y="459" width="12" height="12.5" fill="#a5a5ff"/>
<rect x="407" y="459" width="23" height="12.5" fill="#fffdfd"/>
<rect x="430" y="459" width="11" height="12.5" fill="#ededff"/>
<rect x="441" y="459" width="12" height="12.5" fill="#f5f5ff"/>
<rect x="453" y="459" width="11" height="12.5" fill="#ffc9c9"/>
<rect x="464" y="459" width="12" height="12.5" fill="#ededff"/>
<rect x="476" y="459" width="11" height="12.5" fill="#b9b9ff"/>
<rect x="487" y="459" width="12.5" height="12.5" fill="#ff9d9d"/>
</g>
<g shape-rendering="crispEdges">
<rect x="530.5" y="9.5" width="23" height="3.5" fill="#820000"/>
<rect x="530.5" y="13" width="23" height="2" fill="#840000"/>
<rect x="530.5" y="15" width="23" height="1" fill="#860000"/>
<rect x="530.5" y="16" width="23" height="2" fill="#880000"/>
<rect x="530.5" y="18" width="23" height="2" fill="#8a0000"/>
<rect x="530.5" y="20" width="23" height="2" fill="#8c0000"/>
<rect x="530.5" y="22" width="23" height="2" fill="#8e0000"/>
<rect x="530.5" y="24" width="23" height="2" fill="#900000"/>
<rect x="530.5" y="26" width="23" height="1" fill="#920000"/>
<rect x="530.5" y="27" width="23" height="2" fill="#930000"/>
<rect x="530.5" y="29" width="23" height="2" fill="#960000"/>
<rect x="530.5" y="31" width="23" height="2" fill="#980000"/>
<rect x="530.5" y="33" width="23" height="2" fill="#9a0000"/>
<rect x="530.5" y="35" width="23" height="1" fill="#9c0000"/>
<rect x="530.5" y="36" width="23" height="2" fill="#9e0000"/>
<rect x="530.5" y="38" width="23" height="2" fill="#a00000"/>
<rect x="530.5" y="40" width="23" height="2" fill="#a20000"/>
<rect x="530.5" y="42" width="23" height="2" fill="#a30000"/>
<rect x="530.5" y="44" width="23" height="1" fill="#a60000"/>
<rect x="530.5" y="45" width="23" height="2" fill="#a80000"/>
<rect x="530.5" y="47" width="23" height="2" fill="#aa0000"/>
<rect x="530.5" y="49" width="23" height="2" fill="#ac0000"/>
<rect x="530.5" y="51" width="23" height="2" fill="#ae0000"/>
<rect x="530.5" y="53" width="23" height="1" fill="#b00000"/>
<rect x="530.5" y="54" width="23" height="2" fill="#b20000"/>
<rect x="530.5" y="56" width="23" height="2" fill="#b30000"/>
<rect x="530.5" y="58" width="23" height="2" fill="#b60000"/>
<rect x="530.5" y="60" width="23" height="2" fill="#b80000"/>
<rect x="530.5" y="62" width="23" height="1" fill="#ba0000"/>
<rect x="530.5" y="63" width="23" height="2" fill="#bc0000"/>
<rect x="530.5" y="65" width="23" height="2" fill="#be0000"/>
<rect x="530.5" y="67" width="23" height="2" fill="#c00000"/>
<rect x="530.5" y="69" width="23" height="2" fill="#c20000"/>
<rect x="530.5" y="71" width="23" height="1" fill="#c30000"/>
<rect x="530.5" y="72" width="23" height="2" fill="#c60000"/>
<rect x="530.5" y="74" width="23" height="2" fill="#c80000"/>
<rect x="530.5" y="76" width="23" height="2" fill="#ca0000"/>
<rect x="530.5" y="78" width="23" height="2" fill="#cc0000"/>
<rect x="530.5" y="80" width="23" height="1" fill="#ce0000"/>
<rect x="530.5" y="81" width="23" height="2" fill="#d00000"/>
<rect x="530.5" y="83" width="23" height="2" fill="#d20000"/>
<rect x="530.5" y="85" width="23" height="2" fill="#d30000"/>
<rect x="530.5" y="87" width="23" height="2" fill="#d60000"/>
<rect x="530.5" y="89" width="23" height="1" fill="#d80000"/>
<rect x="530.5" y="90" width="23" height="2" fill="#da0000"/>
<rect x="530.5" y="92" width="23" height="2" fill="#dc0000"/>
<rect x="530.5" y="94" width="23" height="2" fill="#de0000"/>
<rect x="530.5" y="96" width="23" height="2" fill="#e00000"/>
<rect x="530.5" y="98" width="23" height="2" fill="#e20000"/>
<rect x="530.5" y="100" width="23" height="1" fill="#e30000"/>
<rect x="530.5" y="101" width="23" height="2" fill="#e60000"/>
<rect x="530.5" y="103" width="23" height="2" fill="#e80000"/>
<rect x="530.5" y="105" width="23" height="2" fill="#ea0000"/>
<rect x="530.5" y="107" width="23" height="2" fill="#ec0000"/>
<rect x="530.5" y="109" width="23" height="1" fill="#ee0000"/>
<rect x="530.5" y="110" width="23" height="2" fill="#f00000"/>
<rect x="530.5" y="112" width="23" height="2" fill="#f20000"/>
<rect x="530.5" y="114" width="23" height="2" fill="#f40000"/>
<rect x="530.5" y="116" width="23" height="2" fill="#f60000"/>
<rect x="530.5" y="118" width="23" height="1" fill="#f80000"/>
<rect x="530.5" y="119" width="23" height="2" fill="#fa0000"/>
<rect x="530.5" y="121" width="23" height="2" fill="#fc0000"/>
<rect x="530.5" y="123" width="23" height="2" fill="#fe0000"/>
<rect x="530.5" y="125" width="23" height="2" fill="#ff0101"/>
<rect x="530.5" y="127" width="23" height="1" fill="#ff0505"/>
<rect x="530.5" y="128" width="23" height="2" fill="#ff0909"/>
<rect x="530.5" y="130" width="23" height="2" fill="#ff0d0d"/>
<rect x="530.5" y="132" width="23" height="2" fill="#ff1111"/>
<rect x="530.5" y="134" width="23" height="2" fill="#ff1515"/>
<rect x="530.5" y="136" width="23" height="1" fill="#ff1919"/>
<rect x="530.5" y="137" width="23" height="2" fill="#ff1d1d"/>
<rect x="530.5" y="139" width="23" height="2" fill="#ff2121"/>
<rect x="530.5" y="141" width="23" height="2" fill="#ff2525"/>
<rect x="530.5" y="143" width="23" height="2" fill="#ff2929"/>
<rect x="530.5" y="145" width="23" height="1" fill="#ff2d2d"/>
<rect x="530.5" y="146" width="23" height="2" fill="#ff3131"/>
<rect x="530.5" y="148" width="23" height="2" fill="#ff3535"/>
<rect x="530.5" y="150" width="23" height="2" fill="#ff3939"/>
<rect x="530.5" y="152" width="23" height="2" fill="#ff3d3d"/>
<rect x="530.5" y="154" width="23" height="1" fill="#ff4141"/>
<rect x="530.5" y="155" width="23" height="2" fill="#ff4545"/>
<rect x="530.5" y="157" width="23" height="2" fill="#ff4949"/>
<rect x="530.5" y="159" width="23" height="2" fill="#ff4d4d"/>
<rect x="530.5" y="161" width="23" height="2" fill="#ff5151"/>
<rect x="530.5" y="163" width="23" height="1" fill="#ff5555"/>
<rect x="530.5" y="164" width="23" height="2" fill="#ff5959"/>
<rect x="530.5" y="166" width="23" height="2" fill="#ff5d5d"/>
<rect x="530.5" y="168" width="23" height="2" fill="#ff6161"/>
<rect x="530.5" y="170" width="23" height="2" fill="#ff6565"/>
<rect x="530.5" y="172" width="23" height="2" fill="#ff6969"/>
<rect x="530.5" y="174" width="23" height="1" fill="#ff6d6d"/>
<rect x="530.5" y="175" width="23" height="2" fill="#ff7171"/>
<rect x="530.5" y="177" width="23" height="2" fill="#ff7575"/>
<rect x="530.5" y="179" width="23" height="2" fill="#ff7979"/>
<rect x="530.5" y="181" width="23" height="2" fill="#ff7d7d"/>
<rect x="530.5" y="183" width="23" height="1" fill="#ff8181"/>
<rect x="530.5" y="184" width="23" height="2" fill="#ff8585"/>
<rect x="530.5" y="186" width="23" height="2" fill="#ff8989"/>
<rect x="530.5" y="188" width="23" height="2" fill="#ff8d8d"/>
<rect x="530.5" y="190" width="23" height="2" fill="#ff9191"/>
<rect x="530.5" y="192" width="23" height="1" fill="#ff9595"/>
<rect x="530.5" y="193" width="23" height="2" fill="#ff9999"/>
<rect x="530.5" y="195" width="23" height="2" fill="#ff9d9d"/>
<rect x="530.5" y="197" width="23" height="2" fill="#ffa1a1"/>
<rect x="530.5" y="199" width="23" height="2" fill="#ffa5a5"/>
<rect x="530.5" y="201" width="23" height="1" fill="#ffa9a9"/>
<rect x="530.5" y="202" width="23" height="2" fill="#ffadad"/>
<rect x="530.5" y="204" width="23" height="2" fill="#ffb1b1"/>
<rect x="530.5" y="206" width="23" height="2" fill="#ffb5b5"/>
<rect x="530.5" y="208" width="23" height="2" fill="#ffb9b9"/>
<rect x="530.5" y="210" width="23" height="1" fill="#ffbdbd"/>
<rect x="530.5" y="211" width="23" height="2" fill="#ffc1c1"/>
<rect x="530.5" y="213" width="23" height="2" fill="#ffc5c5"/>
<rect x="530.5" y="215" width="23" height="2" fill="#ffc9c9"/>
<rect x="530.5" y="217" width="23" height="2" fill="#ffcdcd"/>
<rect x="530.5" y="219" width="23" height="1" fill="#ffd1d1"/>
<rect x="530.5" y="220" width="23" height="2" fill="#ffd5d5"/>
<rect x="530.5" y="222" width="23" height="2" fill="#ffd9d9"/>
<rect x="530.5" y="224" width="23" height="2" fill="#ffdddd"/>
<rect x="530.5" y="226" width="23" height="2" fill="#ffe1e1"/>
<rect x="530.5" y="228" width="23" height="1" fill="#ffe5e5"/>
<rect x="530.5" y="229" width="23" height="2" fill="#ffe9e9"/>
<rect x="530.5" y="231" width="23" height="2" fill="#ffeded"/>
<rect x="530.5" y="233" width="23" height="2" fill="#fff1f1"/>
<rect x="530.5" y="235" width="23" height="2" fill="#fff5f5"/>
<rect x="530.5" y="237" width="23" height="1" fill="#fff9f9"/>
<rect x="530.5" y="238" width="23" height="2" fill="#fffdfd"/>
<rect x="530.5" y="240" width="23" height="2" fill="#fdfdff"/>
<rect x="530.5" y="242" width="23" height="2" fill="#f9f9ff"/>
<rect x="530.5" y="244" width="23" height="2" fill="#f5f5ff"/>
<rect x="530.5" y="246" width="23" height="1" fill="#f1f1ff"/>
<rect x="530.5" y="247" width="23" height="2" fill="#ededff"/>
<rect x="530.5" y="249" width="23" height="2" fill="#e9e9ff"/>
<rect x="530.5" y="251" width="23" height="2" fill="#e5e5ff"/>
<rect x="530.5" y="253" width="23" height="2" fill="#e1e1ff"/>
<rect x="530.5" y="255" width="23" height="2" fill="#ddddff"/>
<rect x="530.5" y="257" width="23" height="1" fill="#d9d9ff"/>
<rect x="530.5" y="258" width="23" height="2" fill="#d5d5ff"/>
<rect x="530.5" y="260" width="23" height="2" fill="#d1d1ff"/>
<rect x="530.5" y="262" width="23" height="2" fill="#cdcdff"/>
<rect x="530.5" y="264" width="23" height="2" fill="#c9c9ff"/>
<rect x="530.5" y="266" width="23" height="1" fill="#c5c5ff"/>
<rect x="530.5" y="267" width="23" height="2" fill="#c1c1ff"/>
<rect x="530.5" y="269" width="23" height="2" fill="#bdbdff"/>
<rect x="530.5" y="271" width="23" height="2" fill="#b9b9ff"/>
<rect x="530.5" y="273" width="23" height="2" fill="#b5b5ff"/>
<rect x="530.5" y="275" width="23" height="1" fill="#b1b1ff"/>
<rect x="530.5" y="276" width="23" height="2" fill="#adadff"/>
<rect x="530.5" y="278" width="23" height="2" fill="#a9a9ff"/>
<rect x="530.5" y="280" width="23" height="2" fill="#a5a5ff"/>
<rect x="530.5" y="282" width="23" height="2" fill="#a1a1ff"/>
<rect x="530.5" y="284" width="23" height="1" fill="#9d9dff"/>
<rect x="530.5" y="285" width="23" height="2" fill="#9999ff"/>
<rect x="530.5" y="287" width="23" height="2" fill="#9595ff"/>
<rect x="530.5" y="289" width="23" height="2" fill="#9191ff"/>
<rect x="530.5" y="291" width="23" height="2" fill="#8d8dff"/>
<rect x="530.5" y="293" width="23" height="1" fill="#8989ff"/>
<rect x="530.5" y="294" width="23" height="2" fill="#8585ff"/>
<rect x="530.5" y="296" width="23" height="2" fill="#8181ff"/>
<rect x="530.5" y="298" width="23" height="2" fill="#7d7dff"/>
<rect x="530.5" y="300" width="23" height="2" fill="#7979ff"/>
<rect x="530.5" y="302" width="23" height="1" fill="#7575ff"/>
<rect x="530.5" y="303" width="23" height="2" fill="#7171ff"/>
<rect x="530.5" y="305" width="23" height="2" fill="#6d6dff"/>
<rect x="530.5" y="307" width="23" height="2" fill="#6969ff"/>
<rect x="530.5" y="309" width="23" height="2" fill="#6565ff"/>
<rect x="530.5" y="311" width="23" height="1" fill="#6161ff"/>
<rect x="530.5" y="312" width="23" height="2" fill="#5d5dff"/>
<rect x="530.5" y="314" width="23" height="2" fill="#5959ff"/>
<rect x="530.5" y="316" width="23" height="2" fill="#5555ff"/>
<rect x="530.5" y="318" width="23" height="2" fill="#5151ff"/>
<rect x="530.5" y="320" width="23" height="1" fill="#4d4dff"/>
<rect x="530.5" y="321" width="23" height="2" fill="#4949ff"/>
<rect x="530.5" y="323" width="23" height="2" fill="#4545ff"/>
<rect x="530.5" y="325" width="23" height="2" fill="#4141ff"/>
<rect x="530.5" y="327" width="23" height="2" fill="#3d3dff"/>
<rect x="530.5" y="329" width="23" height="2" fill="#3939ff"/>
<rect x="530.5" y="331" width="23" height="1" fill="#3535ff"/>
<rect x="530.5" y="332" width="23" height="2" fill="#3131ff"/>
<rect x="530.5" y="334" width="23" height="2" fill="#2d2dff"/>
<rect x="530.5" y="336" width="23" height="2" fill="#2929ff"/>
<rect x="530.5" y="338" width="23" height="2" fill="#2525ff"/>
<rect x="530.5" y="340" width="23" height="1" fill="#2121ff"/>
<rect x="530.5" y="341" width="23" height="2" fill="#1d1dff"/>
<rect x="530.5" y="343" width="23" height="2" fill="#1919ff"/>
<rect x="530.5" y="345" width="23" height="2" fill="#1515ff"/>
<rect x="530.5" y="347" width="23" height="2" fill="#1111ff"/>
<rect x="530.5" y="349" width="23" height="1" fill="#0d0dff"/>
<rect x="530.5" y="350" width="23" height="2" fill="#0909ff"/>
<rect x="530.5" y="352" width="23" height="2" fill="#0505ff"/>
<rect x="530.5" y="354" width="23" height="2" fill="#0101ff"/>
<rect x="530.5" y="356" width="23" height="2" fill="#0000fd"/>
<rect x="530.5" y="358" width="23" height="1" fill="#0000fa"/>
<rect x="530.5" y="359" width="23" height="2" fill="#0000f7"/>
<rect x="530.5" y="361" width="23" height="2" fill="#0000f4"/>
<rect x="530.5" y="363" width="23" height="2" fill="#0000f2"/>
<rect x="530.5" y="365" width="23" height="2" fill="#0000ef"/>
<rect x="530.5" y="367" width="23" height="1" fill="#0000ec"/>
<rect x="530.5" y="368" width="23" height="2" fill="#0000e9"/>
<rect x="530.5" y="370" width="23" height="2" fill="#0000e6"/>
<rect x="530.5" y="372" width="23" height="2" fill="#0000e4"/>
<rect x="530.5" y="374" width="23" height="2" fill="#0000e1"/>
<rect x="530.5" y="376" width="23" height="1" fill="#0000de"/>
<rect x="530.5" y="377" width="23" height="2" fill="#0000db"/>
<rect x="530.5" y="379" width="23" height="2" fill="#0000d8"/>
<rect x="530.5" y="381" width="23" height="2" fill="#0000d6"/>
<rect x="530.5" y="383" width="23" height="2" fill="#0000d3"/>
<rect x="530.5" y="385" width="23" height="1" fill="#0000d0"/>
<rect x="530.5" y="386" width="23" height="2" fill="#0000cd"/>
<rect x="530.5" y="388" width="23" height="2" fill="#0000ca"/>
<rect x="530.5" y="390" width="23" height="2" fill="#0000c8"/>
<rect x="530.5" y="392" width="23" height="2" fill="#0000c5"/>
<rect x="530.5" y="394" width="23" height="1" fill="#0000c2"/>
<rect x="530.5" y="395" width="23" height="2" fill="#0000bf"/>
<rect x="530.5" y="397" width="23" height="2" fill="#0000bc"/>
<rect x="530.5" y="399" width="23" height="2" fill="#0000ba"/>
<rect x="530.5" y="401" width="23" height="2" fill="#0000b7"/>
<rect x="530.5" y="403" width="23" height="2" fill="#0000b4"/>
<rect x="530.5" y="405" width="23" height="1" fill="#0000b1"/>
<rect x="530.5" y="406" width="23" height="2" fill="#0000af"/>
<rect x="530.5" y="408" width="23" height="2" fill="#0000ac"/>
<rect x="530.5" y="410" width="23" height="2" fill="#0000a9"/>
<rect x="530.5" y="412" width="23" height="2" fill="#0000a6"/>
<rect x="530.5" y="414" width="23" height="1" fill="#0000a3"/>
<rect x="530.5" y="415" width="23" height="2" fill="#0000a1"/>
<rect x="530.5" y="417" width="23" height="2" fill="#00009e"/>
<rect x="530.5" y="419" width="23" height="2" fill="#00009b"/>
<rect x="530.5" y="421" width="23" height="2" fill="#000098"/>
<rect x="530.5" y="423" width="23" height="1" fill="#000095"/>
<rect x="530.5" y="424" width="23" height="2" fill="#000093"/>
<rect x="530.5" y="426" width="23" height="2" fill="#000090"/>
<rect x="530.5" y="428" width="23" height="2" fill="#00008d"/>
<rect x="530.5" y="430" width="23" height="2" fill="#00008a"/>
<rect x="530.5" y="432" width="23" height="1" fill="#000087"/>
<rect x="530.5" y="433" width="23" height="2" fill="#000084"/>
<rect x="530.5" y="435" width="23" height="2" fill="#000082"/>
<rect x="530.5" y="437" width="23" height="2" fill="#00007f"/>
<rect x="530.5" y="439" width="23" height="2" fill="#00007c"/>
<rect x="530.5" y="441" width="23" height="1" fill="#000079"/>
<rect x="530.5" y="442" width="23" height="2" fill="#000077"/>
<rect x="530.5" y="444" width="23" height="2" fill="#000074"/>
<rect x="530.5" y="446" width="23" height="2" fill="#000071"/>
<rect x="530.5" y="448" width="23" height="2" fill="#00006e"/>
<rect x="530.5" y="450" width="23" height="1" fill="#00006b"/>
<rect x="530.5" y="451" width="23" height="2" fill="#000069"/>
<rect x="530.5" y="453" width="23" height="2" fill="#000066"/>
<rect x="530.5" y="455" width="23" height="2" fill="#000063"/>
<rect x="530.5" y="457" width="23" height="2" fill="#000060"/>
<rect x="530.5" y="459" width="23" height="1" fill="#00005d"/>
<rect x="530.5" y="460" width="23" height="2" fill="#00005a"/>
<rect x="530.5" y="462" width="23" height="2" fill="#000058"/>
<rect x="530.5" y="464" width="23" height="2" fill="#000055"/>
<rect x="530.5" y="466" width="23" height="2" fill="#000052"/>
<rect x="530.5" y="468" width="23" height="1" fill="#00004f"/>
<rect x="530.5" y="469" width="23" height="2.5" fill="#00004d"/>
</g>
<rect x="37.5" y="9.5" width="462" height="462" stroke="#000" stroke-width="1.11" fill="none"/>
<rect x="530.5" y="9.5" width="23" height="462" stroke="#000" stroke-width="1.11" fill="none"/>
<rect x="42.945" y="471.5" width="1.11" height="5" fill="#000"/>
<rect x="100.945" y="471.5" width="1.11" height="5" fill="#000"/>
<rect x="158.945" y="471.5" width="1.11" height="5" fill="#000"/>
<rect x="215.945" y="471.5" width="1.11" height="5" fill="#000"/>
<rect x="273.945" y="471.5" width="1.11" height="5" fill="#000"/>
<rect x="331.945" y="471.5" width="1.11" height="5" fill="#000"/>
<rect x="389.945" y="471.5" width="1.11" height="5" fill="#000"/>
<rect x="446.945" y="471.5" width="1.11" height="5" fill="#000"/>
<rect x="32.5" y="14.945" width="5" height="1.11" fill="#000"/>
<rect x="32.5" y="72.945" width="5" height="1.11" fill="#000"/>
<rect x="32.5" y="130.945" width="5" height="1.11" fill="#000"/>
<rect x="32.5" y="187.945" width="5" height="1.11" fill="#000"/>
<rect x="32.5" y="245.945" width="5" height="1.11" fill="#000"/>
<rect x="32.5" y="303.945" width="5" height="1.11" fill="#000"/>
<rect x="32.5" y="361.945" width="5" height="1.11" fill="#000"/>
<rect x="32.5" y="418.945" width="5" height="1.11" fill="#000"/>
<rect x="553.5" y="62.945" width="5" height="1.11" fill="#000"/>
<rect x="553.5" y="121.945" width="5" height="1.11" fill="#000"/>
<rect x="553.5" y="180.945" width="5" height="1.11" fill="#000"/>
<rect x="553.5" y="239.945" width="5" height="1.11" fill="#000"/>
<rect x="553.5" y="299.945" width="5" height="1.11" fill="#000"/>
<rect x="553.5" y="358.945" width="5" height="1.11" fill="#000"/>
<rect x="553.5" y="417.945" width="5" height="1.11" fill="#000"/>
<text transform="translate(44.43 493) scale(1.105 1)" text-anchor="middle">0</text>
<text transform="translate(101.45 493) scale(1.105 1)" text-anchor="middle">5</text>
<text transform="translate(158.35 493) scale(1.105 1)" text-anchor="middle">10</text>
<text transform="translate(215.96 493) scale(1.105 1)" text-anchor="middle">15</text>
<text transform="translate(273.73 493) scale(1.105 1)" text-anchor="middle">20</text>
<text transform="translate(331.59 493) scale(1.105 1)" text-anchor="middle">25</text>
<text transform="translate(389.47 493) scale(1.105 1)" text-anchor="middle">30</text>
<text transform="translate(447.41 493) scale(1.105 1)" text-anchor="middle">35</text>
<text transform="translate(28.52 21) scale(1.105 1)" text-anchor="end">0</text>
<text transform="translate(27.52 79) scale(1.105 1)" text-anchor="end">5</text>
<text transform="translate(27.68 137) scale(1.105 1)" text-anchor="end">10</text>
<text transform="translate(27.54 195) scale(1.105 1)" text-anchor="end">15</text>
<text transform="translate(27.32 252) scale(1.105 1)" text-anchor="end">20</text>
<text transform="translate(27.17 310) scale(1.105 1)" text-anchor="end">25</text>
<text transform="translate(27.05 368) scale(1.105 1)" text-anchor="end">30</text>
<text transform="translate(26.73 426) scale(1.105 1)" text-anchor="end">35</text>
<text transform="translate(563.53 69) scale(1.105 1)" text-anchor="start">0.3</text>
<text transform="translate(563.66 128) scale(1.105 1)" text-anchor="start">0.2</text>
<text transform="translate(563.77 187) scale(1.105 1)" text-anchor="start">0.1</text>
<text transform="translate(563.68 246) scale(1.105 1)" text-anchor="start">0.0</text>
<text transform="translate(564.19 306) scale(1.105 1)" text-anchor="start"><tspan textLength="9.5" lengthAdjust="spacingAndGlyphs">−</tspan>0.1</text>
<text transform="translate(563.87 365) scale(1.105 1)" text-anchor="start"><tspan textLength="9.5" lengthAdjust="spacingAndGlyphs">−</tspan>0.2</text>
<text transform="translate(563.78 424) scale(1.105 1)" text-anchor="start"><tspan textLength="9.5" lengthAdjust="spacingAndGlyphs">−</tspan>0.3</text>
</svg>
</body></html>
